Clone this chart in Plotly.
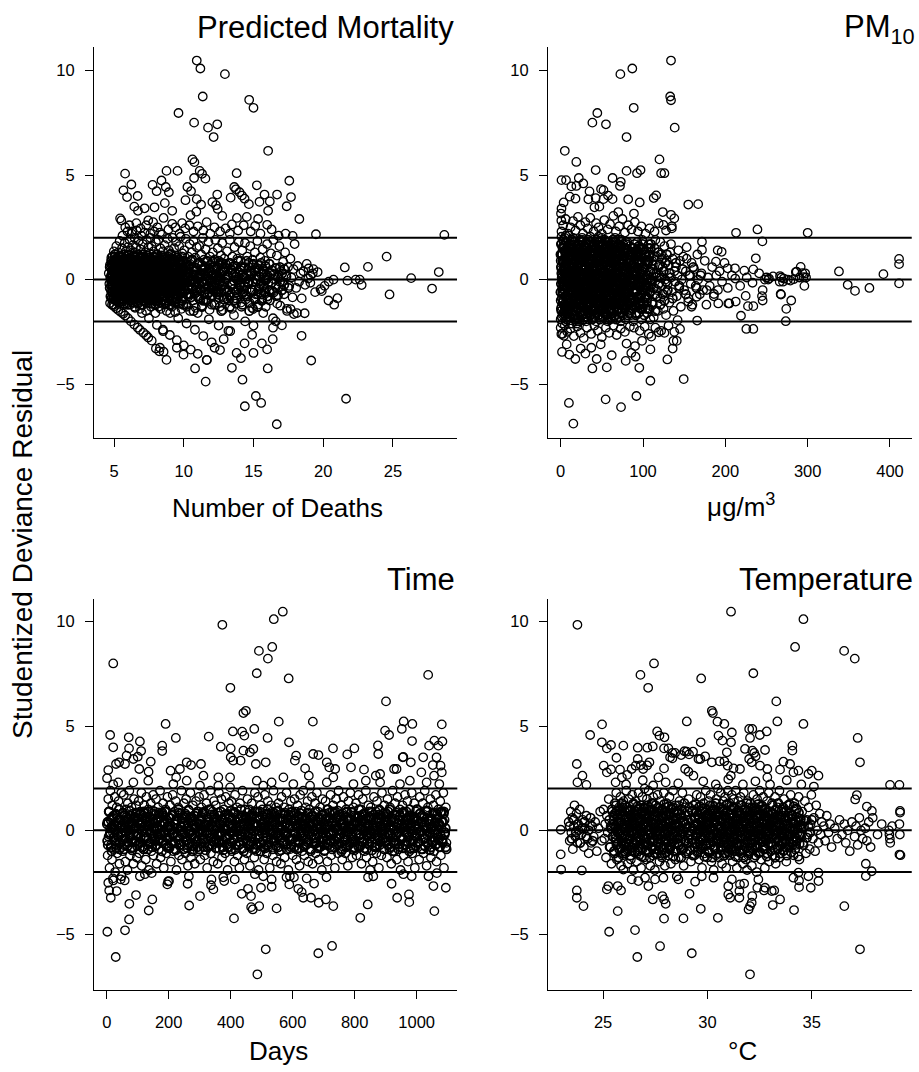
import plotly.graph_objects as go

# ---------------- Panel 1: Predicted Mortality (x = predicted deaths, y = studentized deviance residual)
mort_scatter = [
(10.93,10.48),(11.19,10.1),(12.95,9.83),(11.36,8.76),(14.69,8.6),(15.0,8.22),(9.62,7.97),(10.74,7.51),(12.4,7.43),(11.74,7.27),(12.14,6.82),(16.05,6.16),(10.62,5.75),(10.76,5.62),(5.79,5.07),(8.76,5.2),(9.55,5.2),(11.14,5.2),(11.31,5.06),(13.79,5.09),(11.55,4.83),(10.74,4.86),(17.57,4.73),(15.24,4.51),(6.24,4.55),(5.67,4.27),(7.76,4.53),(8.4,4.74),(8.71,4.43),(8.93,4.18),(10.26,4.43),(10.52,4.23),(5.93,3.95),(6.69,4.0),(8.05,4.23),(12.4,4.07),(13.62,4.43),(13.74,4.32),(14.0,4.18),(14.36,3.87),(14.17,4.02),(15.79,4.07),(16.69,4.07),(17.69,3.95),(13.36,3.92),(10.93,3.85),(10.12,3.8),(11.24,3.59),(8.64,3.66),(14.67,3.61),(15.43,3.72),(16.17,3.74),(17.38,3.51),(12.05,3.71),(12.31,3.56),(12.43,3.38),(6.45,3.49),(6.71,3.29),(7.19,3.41),(7.9,3.46),(9.17,3.29),(10.48,3.08),(10.9,3.25),(12.76,3.05),(13.81,2.95),(14.52,3.0),(15.33,2.9),(16.05,3.29),(18.29,2.9),(5.43,2.93),(5.52,2.83),(7.45,2.83),(8.55,2.95),(9.17,2.67),(9.88,2.7),(11.64,2.75),(13.45,2.64),(15.12,2.57),(15.98,2.62),(19.48,2.17),(28.69,2.14),(17.81,2.09),
(5.8,2.5),(6.1,2.6),(6.3,2.3),(6.6,2.7),(6.9,2.45),(7.3,2.6),(7.6,2.2),(7.8,2.75),(8.1,2.5),(8.3,2.25),(8.9,2.4),(9.4,2.5),(9.7,2.2),(10.1,2.45),(10.4,2.6),(10.7,2.3),(11.0,2.55),(11.4,2.35),(11.9,2.2),(12.2,2.5),(12.6,2.3),(13.0,2.45),(13.3,2.2),(13.9,2.35),(14.3,2.6),(14.8,2.3),(15.5,2.2),(16.3,2.4),(16.8,2.1),(17.3,2.2),
(24.55,1.1),(21.55,0.58),(23.21,0.61),(28.29,0.36),(26.31,0.07),(20.74,0.0),(21.74,-0.05),(22.33,0.0),(22.62,0.0),(22.76,-0.26),(27.81,-0.43),(24.76,-0.71),(19.81,-0.46),(20.38,-1.0),(21.02,-0.89),(20.79,-1.2),(19.6,0.36),(18.95,0.53),(19.3,0.5),(20.1,-0.3),(19.9,-0.55),(20.4,-0.1),(19.1,0.2),
(8.52,-2.47),(8.76,-3.84),(8.0,-3.3),(8.24,-3.43),(9.5,-3.26),(9.98,-3.59),(10.81,-4.25),(11.57,-4.88),(11.64,-3.84),(12.21,-3.26),(12.86,-2.85),(13.33,-2.47),(13.45,-4.22),(13.79,-3.51),(14.1,-3.76),(14.21,-4.79),(14.36,-3.05),(14.38,-6.06),(14.9,-2.64),(15.0,-3.51),(15.17,-5.57),(15.55,-5.9),(15.6,-3.05),(15.98,-3.34),(16.02,-4.25),(16.67,-6.92),(18.45,-2.69),(19.14,-3.87),(21.64,-5.7),(16.38,-2.85),(18.67,-1.61),(17.66,-1.41),(18.12,-1.6),(17.04,-2.19),(16.4,-2.3),(16.6,-2.0)
]
mort_bands = [
(4.71,-1.12),(4.85,-1.2),(5.0,-1.28),(5.15,-1.37),(5.3,-1.46),(5.48,-1.55),(5.65,-1.63),(5.79,-1.72),(6.0,-1.85),(6.21,-2.0),(6.45,-2.15),(6.7,-2.3),(6.86,-2.41),(7.1,-2.54),(7.3,-2.66),(7.45,-2.77),(7.7,-2.92),(8.29,-3.26),(8.55,-3.45),
(5.6,-0.9),(6.0,-1.1),(6.5,-1.35),(7.0,-1.6),(7.5,-1.85),(8.07,-2.17),(8.5,-2.4),(9.0,-2.65),(9.5,-2.9),(10.0,-3.15),(10.5,-3.35),(11.0,-3.55),(11.66,-3.85),
(7.0,-0.9),(7.6,-1.1),(8.2,-1.3),(9.02,-1.6),(9.6,-1.85),(10.2,-2.1),(10.8,-2.4),(11.4,-2.7),(12.0,-3.0),(12.6,-3.37),
(8.6,-0.8),(9.4,-1.05),(10.2,-1.3),(11.0,-1.6),(11.8,-1.9),(12.5,-2.2),(13.2,-2.45),
(10.4,-0.7),(11.2,-0.95),(12.0,-1.2),(12.8,-1.45),(13.6,-1.7),(14.4,-2.0),(15.0,-2.2),
(12.5,-0.6),(13.3,-0.85),(14.1,-1.1),(14.9,-1.35),(15.7,-1.6),(16.4,-1.85),
(14.5,-0.5),(15.3,-0.7),(16.0,-0.95),(16.7,-1.15),(17.4,-1.4),(17.9,-1.65)
]
mort_core = [
(4.62,0.3),(4.66,-0.2),(4.7,0.7),(4.74,0.05),(4.78,-0.55),(4.8,1.05),(4.84,0.45),(4.88,-0.35),(4.9,0.15),(4.94,-0.8),(4.96,0.85),(4.98,1.35),
(5.02,-0.6),(5.04,0.4),(5.06,1.1),(5.08,-0.1),(5.1,0.75),(5.12,-0.95),(5.14,0.2),(5.16,1.6),(5.18,-0.4),(5.2,0.55),(5.22,-0.15),(5.24,0.95),(5.26,-0.75),(5.28,0.3),(5.3,1.3),(5.32,-0.3),(5.34,0.65),(5.36,0.0),(5.38,-1.0),(5.4,1.85),(5.42,0.45),(5.44,-0.55),(5.46,0.15),(5.48,1.05),(5.5,-0.2),
(5.52,0.8),(5.54,-0.65),(5.55,0.35),(5.57,1.5),(5.59,-0.05),(5.6,2.1),(5.62,-1.05),(5.64,0.6),(5.66,0.1),(5.68,1.2),(5.7,-0.45),(5.72,0.9),(5.74,-0.2),(5.76,1.75),(5.78,0.4),(5.8,-0.8),(5.82,0.05),(5.84,1.35),(5.86,-0.35),(5.88,0.7),(5.9,-1.15),(5.92,0.25),(5.94,1.0),(5.95,-0.6),(5.96,2.3),(5.97,0.5),(5.98,-0.1),(5.99,1.55),
(6.02,-0.9),(6.04,0.3),(6.06,1.15),(6.08,-0.3),(6.1,0.75),(6.12,1.9),(6.14,-1.2),(6.16,0.0),(6.18,0.55),(6.2,1.4),(6.22,-0.55),(6.24,0.2),(6.26,2.2),(6.28,0.95),(6.3,-0.15),(6.32,-1.0),(6.34,0.6),(6.36,1.65),(6.38,-0.4),(6.4,0.35),(6.42,1.1),(6.44,-0.7),(6.45,0.05),(6.46,0.8),(6.47,2.0),(6.48,-1.3),(6.49,0.45),(6.5,1.3),
(6.52,-0.2),(6.54,0.65),(6.56,-0.85),(6.58,1.55),(6.6,0.1),(6.62,2.35),(6.64,-0.45),(6.66,0.9),(6.68,0.3),(6.7,-1.1),(6.72,1.2),(6.74,-0.05),(6.76,1.85),(6.78,0.5),(6.8,-0.65),(6.82,0.0),(6.84,1.0),(6.86,-1.4),(6.88,0.4),(6.9,1.45),(6.92,-0.3),(6.94,0.75),(6.95,2.1),(6.96,-0.9),(6.98,0.2),(7.0,1.1),
(7.02,-0.5),(7.04,0.55),(7.06,1.7),(7.08,-1.2),(7.1,0.15),(7.13,0.95),(7.16,-0.25),(7.18,2.25),(7.2,0.4),(7.22,-0.8),(7.25,1.3),(7.27,0.0),(7.3,-1.5),(7.32,0.7),(7.34,1.9),(7.36,-0.4),(7.38,0.25),(7.4,1.05),(7.42,-1.0),(7.44,0.5),(7.46,1.55),(7.47,-0.15),(7.48,0.85),(7.5,-0.7),
(7.52,0.3),(7.55,1.25),(7.57,-0.35),(7.6,2.0),(7.62,0.6),(7.65,-1.3),(7.67,0.05),(7.7,1.6),(7.72,-0.6),(7.75,0.9),(7.77,0.2),(7.8,-1.0),(7.82,1.35),(7.85,-0.1),(7.87,2.3),(7.9,0.45),(7.92,-0.8),(7.94,1.05),(7.96,-1.6),(7.97,0.7),(7.98,-0.3),(8.0,1.8),
(8.03,0.1),(8.06,-0.5),(8.09,1.2),(8.12,0.55),(8.15,-1.15),(8.18,1.9),(8.2,-0.2),(8.23,0.85),(8.26,-0.75),(8.29,0.3),(8.32,1.5),(8.34,-1.4),(8.36,0.0),(8.39,1.05),(8.41,-0.45),(8.43,2.15),(8.45,0.6),(8.47,-0.95),(8.49,0.25),(8.5,1.35),
(8.53,-0.3),(8.56,0.8),(8.59,-1.2),(8.62,1.65),(8.65,0.15),(8.68,-0.6),(8.71,1.1),(8.74,0.4),(8.77,-1.5),(8.8,0.0),(8.83,1.95),(8.86,-0.85),(8.88,0.65),(8.9,-0.15),(8.93,1.4),(8.95,-1.05),(8.97,0.3),(8.99,0.95),
(9.03,-0.45),(9.07,1.25),(9.1,0.2),(9.14,-1.3),(9.17,0.7),(9.2,2.0),(9.24,-0.7),(9.27,0.05),(9.3,1.5),(9.33,-0.2),(9.36,0.9),(9.39,-1.55),(9.42,0.45),(9.45,1.8),(9.47,-0.9),(9.49,0.25),
(9.52,1.05),(9.56,-0.35),(9.6,0.6),(9.63,-1.1),(9.67,1.6),(9.7,0.1),(9.73,-0.65),(9.77,2.05),(9.8,0.8),(9.83,-1.4),(9.87,0.3),(9.9,1.25),(9.93,-0.15),(9.96,-0.9),(9.99,0.55),
(10.03,1.4),(10.07,-0.5),(10.11,0.2),(10.15,1.95),(10.19,-1.2),(10.23,0.7),(10.27,-0.15),(10.31,1.1),(10.35,-0.8),(10.38,0.4),(10.42,1.7),(10.45,-1.5),(10.48,0.0),(10.5,0.9),
(10.54,-0.4),(10.58,1.3),(10.62,0.25),(10.66,-1.0),(10.7,1.85),(10.74,0.6),(10.78,-0.2),(10.82,1.05),(10.86,-1.35),(10.9,0.45),(10.93,1.55),(10.96,-0.6),(10.99,0.1),
(11.04,0.8),(11.08,-0.9),(11.12,1.6),(11.16,0.15),(11.21,-0.45),(11.25,1.2),(11.29,-1.25),(11.33,0.5),(11.37,2.0),(11.41,-0.1),(11.45,0.95),(11.49,-0.7),
(11.53,0.3),(11.57,1.45),(11.61,-1.0),(11.65,0.0),(11.69,0.85),(11.73,-0.4),(11.77,1.8),(11.81,0.55),(11.85,-1.45),(11.89,1.1),(11.93,-0.15),(11.97,0.4),
(12.04,-0.75),(12.08,1.3),(12.13,0.2),(12.17,-0.3),(12.22,0.95),(12.26,1.9),(12.31,-1.1),(12.35,0.5),(12.4,-0.05),(12.44,1.5),(12.48,-0.55),
(12.54,0.7),(12.58,-1.3),(12.63,0.15),(12.67,1.15),(12.72,-0.35),(12.76,1.75),(12.81,0.4),(12.85,-0.85),(12.9,1.0),(12.94,-0.1),(12.98,0.6),
(13.05,-0.6),(13.1,1.35),(13.15,0.1),(13.2,-1.0),(13.25,0.8),(13.3,1.9),(13.35,-0.25),(13.4,0.45),(13.45,-1.4),(13.49,1.1),
(13.54,0.2),(13.59,-0.45),(13.64,1.55),(13.69,0.65),(13.74,-1.15),(13.79,0.0),(13.84,1.0),(13.89,-0.7),(13.94,1.8),(13.98,0.35),
(14.04,-0.25),(14.09,0.9),(14.14,-1.3),(14.19,1.4),(14.24,0.1),(14.29,-0.6),(14.34,0.55),(14.39,1.75),(14.44,-0.95),(14.48,0.3),
(14.55,1.1),(14.6,-0.15),(14.66,0.6),(14.71,-1.1),(14.77,1.6),(14.82,0.2),(14.88,-0.5),(14.93,0.95),(14.98,-1.4),
(15.05,0.4),(15.1,1.3),(15.16,-0.7),(15.22,0.0),(15.28,1.85),(15.33,-1.2),(15.39,0.7),(15.44,-0.3),(15.49,1.05),
(15.55,0.25),(15.6,-0.9),(15.66,1.45),(15.71,0.5),(15.77,-0.4),(15.83,0.9),(15.88,-1.3),(15.93,0.1),(15.98,1.7),
(16.06,-0.15),(16.12,0.75),(16.18,-1.0),(16.25,1.25),(16.31,0.3),(16.37,-0.55),(16.43,1.9),(16.49,0.0),
(16.56,0.55),(16.62,-0.8),(16.68,1.15),(16.74,0.15),(16.8,-0.35),(16.86,1.6),(16.92,-1.25),(16.98,0.4),
(17.06,-0.1),(17.13,0.85),(17.2,-0.7),(17.27,1.3),(17.34,0.25),(17.41,-1.5),(17.48,0.6),
(17.57,-0.3),(17.65,1.0),(17.72,0.1),(17.8,-0.85),(17.87,0.5),(17.95,1.7),
(18.06,-0.4),(18.17,0.65),(18.27,-0.1),(18.38,0.3),(18.46,-0.9),
(18.58,0.4),(18.7,-0.25),(18.82,0.75),(18.93,0.05),
(19.08,-0.15),(19.25,0.3),(19.42,-0.6)
]
mort_dense = [
(4.70,0.6),(4.70,-0.4),(4.75,0.1),(4.75,-0.8),(4.80,0.9),(4.80,-0.1),(4.85,0.3),(4.85,-0.6),(4.90,0.75),(4.90,-0.25),(4.95,0.45),(4.95,-0.9),(5.00,0.0),(5.00,0.5),(5.05,-0.5),(5.05,0.2),(5.10,-0.7),(5.10,0.85),(5.15,-0.3),(5.15,0.35),(5.20,-0.05),(5.20,0.65),(5.25,-0.85),(5.25,0.15),(5.30,-0.45),(5.30,0.95),(5.35,-0.15),(5.35,0.4),(5.40,-0.65),(5.40,0.25),
(5.45,0.55),(5.45,-0.35),(5.50,0.05),(5.50,-0.75),(5.55,0.8),(5.55,-0.2),(5.60,0.3),(5.60,-0.55),(5.65,0.7),(5.65,-0.1),(5.70,0.45),(5.70,-0.95),(5.75,0.0),(5.75,0.6),(5.80,-0.45),(5.80,0.15),(5.85,-0.7),(5.85,0.9),(5.90,-0.3),(5.90,0.4),(5.95,-0.05),(5.95,0.7),(6.00,-0.8),(6.00,0.2),(6.05,-0.5),(6.05,1.0),(6.10,-0.15),(6.10,0.5),(6.15,-0.6),(6.15,0.25),
(6.20,0.6),(6.20,-0.4),(6.25,0.1),(6.25,-0.85),(6.30,0.85),(6.30,-0.1),(6.35,0.35),(6.35,-0.6),(6.40,0.75),(6.40,-0.3),(6.45,0.5),(6.45,-0.95),(6.50,0.0),(6.50,0.55),(6.55,-0.5),(6.55,0.2),(6.60,-0.75),(6.60,0.9),(6.65,-0.25),(6.65,0.35),(6.70,-0.05),(6.70,0.65),(6.75,-0.9),(6.75,0.15),(6.80,-0.45),(6.80,1.0),(6.85,-0.15),(6.85,0.45),(6.90,-0.65),(6.90,0.25),
(6.95,0.6),(6.95,-0.35),(7.00,0.05),(7.00,-0.8),(7.05,0.85),(7.05,-0.2),(7.10,0.3),(7.10,-0.6),(7.15,0.7),(7.15,-0.1),(7.20,0.45),(7.20,-1.0),(7.25,0.0),(7.25,0.55),(7.30,-0.45),(7.30,0.15),(7.35,-0.75),(7.35,0.9),(7.40,-0.3),(7.40,0.4),(7.45,-0.05),(7.45,0.7),(7.50,-0.85),(7.50,0.2),(7.55,-0.5),(7.55,0.95),(7.60,-0.15),(7.60,0.5),(7.65,-0.65),(7.65,0.25),
(7.70,0.6),(7.70,-0.4),(7.75,0.1),(7.75,-0.9),(7.80,0.85),(7.80,-0.1),(7.85,0.3),(7.85,-0.6),(7.90,0.75),(7.90,-0.25),(7.95,0.45),(7.95,-1.0),(8.00,0.0),(8.00,0.5),(8.05,-0.5),(8.05,0.2),(8.10,-0.7),(8.10,0.85),(8.15,-0.3),(8.15,0.35),(8.20,-0.05),(8.20,0.65),(8.25,-0.85),(8.25,0.15),(8.30,-0.45),(8.30,0.95),(8.35,-0.15),(8.35,0.4),(8.40,-0.65),(8.40,0.25),
(8.45,0.55),(8.45,-0.35),(8.50,0.05),(8.50,-0.8),(8.55,0.8),(8.55,-0.2),(8.60,0.3),(8.60,-0.55),(8.65,0.7),(8.65,-0.1),(8.70,0.45),(8.70,-1.0),(8.75,0.0),(8.75,0.6),(8.80,-0.45),(8.80,0.15),(8.85,-0.7),(8.85,0.9),(8.90,-0.3),(8.90,0.4),(8.95,-0.05),(8.95,0.7),
(9.0,-0.8),(9.0,0.2),(9.1,-0.5),(9.1,0.9),(9.2,-0.15),(9.2,0.5),(9.3,-0.65),(9.3,0.25),(9.4,0.6),(9.4,-0.4),(9.5,0.1),(9.5,-0.9),(9.6,0.85),(9.6,-0.1),(9.7,0.3),(9.7,-0.6),(9.8,0.75),(9.8,-0.25),(9.9,0.45),(9.9,-1.0),(10.0,0.0),(10.0,0.5),(10.1,-0.5),(10.1,0.2),(10.2,-0.7),(10.2,0.85),(10.3,-0.3),(10.3,0.35),(10.4,-0.05),(10.4,0.65),
(10.5,-0.85),(10.5,0.15),(10.6,-0.45),(10.6,0.95),(10.7,-0.15),(10.7,0.4),(10.8,-0.65),(10.8,0.25),(10.9,0.55),(10.9,-0.35),(11.0,0.05),(11.0,-0.8),(11.1,0.8),(11.1,-0.2),(11.2,0.3),(11.2,-0.55),(11.3,0.7),(11.3,-0.1),(11.4,0.45),(11.4,-1.0),(11.5,0.0),(11.5,0.6),(11.6,-0.45),(11.6,0.15),(11.7,-0.7),(11.7,0.9),(11.8,-0.3),(11.8,0.4),(11.9,-0.05),(11.9,0.7),
(12.0,-0.8),(12.0,0.2),(12.1,-0.5),(12.1,0.85),(12.2,-0.15),(12.2,0.5),(12.3,-0.6),(12.3,0.25),(12.4,0.6),(12.4,-0.4),(12.5,0.1),(12.5,-0.85),(12.6,0.8),(12.6,-0.1),(12.7,0.35),(12.7,-0.6),(12.8,0.75),(12.8,-0.3),(12.9,0.45),(12.9,-0.95),
(13.0,0.0),(13.0,0.55),(13.15,-0.5),(13.15,0.2),(13.3,-0.75),(13.3,0.8),(13.45,-0.25),(13.45,0.35),(13.6,-0.05),(13.6,0.65),(13.75,-0.9),(13.75,0.15),(13.9,-0.45),(13.9,0.9),(14.05,-0.15),(14.05,0.45),(14.2,-0.65),(14.2,0.25),(14.35,0.6),(14.35,-0.35),(14.5,0.05),(14.5,-0.8),(14.65,0.8),(14.65,-0.2),(14.8,0.3),(14.8,-0.6),(14.95,0.7),(14.95,-0.1),(15.1,0.45),(15.1,-0.95),
(15.25,0.0),(15.25,0.55),(15.4,-0.45),(15.4,0.15),(15.55,-0.7),(15.55,0.8),(15.7,-0.3),(15.7,0.4),(15.85,-0.05),(15.85,0.65),(16.0,-0.8),(16.0,0.2),(16.15,-0.5),(16.15,0.75),(16.3,-0.15),(16.3,0.45),(16.45,-0.6),(16.45,0.25),(16.6,0.55),(16.6,-0.35),(16.75,0.1),(16.75,-0.75),(16.9,0.6),(16.9,-0.1),(17.05,0.3),(17.05,-0.5),(17.2,0.5),(17.2,-0.25),(17.35,0.15),(17.5,-0.4)
]
mort_dense2 = [
(4.80,0.2),(4.82,-0.9),(4.84,0.7),(4.86,-0.3),(4.88,1.1),(4.90,-0.6),(4.92,0.0),(4.94,0.5),(4.96,-1.2),(4.98,0.9),(5.00,-0.1),(5.02,0.35),(5.04,-0.75),(5.06,1.2),(5.08,-0.45),(5.10,0.6),(5.12,-1.0),(5.14,0.1),(5.16,0.8),(5.18,-0.2),(5.20,-0.55),(5.22,1.0),(5.24,-0.85),(5.26,0.45),(5.28,-0.05),
(5.30,-0.4),(5.32,0.85),(5.34,-1.1),(5.36,0.15),(5.38,0.55),(5.40,-0.7),(5.42,1.15),(5.44,-0.15),(5.46,0.3),(5.48,-0.95),(5.50,0.65),(5.52,0.05),(5.54,-0.5),(5.56,1.05),(5.58,-0.25),(5.60,-0.8),(5.62,0.4),(5.64,0.95),(5.66,-0.35),(5.68,0.0),(5.70,-1.15),(5.72,0.75),(5.74,-0.6),(5.76,0.25),(5.78,0.5),
(5.80,0.2),(5.82,-0.9),(5.84,0.7),(5.86,-0.3),(5.88,1.1),(5.90,-0.6),(5.92,0.0),(5.94,0.5),(5.96,-1.2),(5.98,0.9),(6.00,-0.1),(6.02,0.35),(6.04,-0.75),(6.06,1.2),(6.08,-0.45),(6.10,0.6),(6.12,-1.0),(6.14,0.1),(6.16,0.8),(6.18,-0.2),(6.20,-0.55),(6.22,1.0),(6.24,-0.85),(6.26,0.45),(6.28,-0.05),
(6.30,-0.4),(6.32,0.85),(6.34,-1.1),(6.36,0.15),(6.38,0.55),(6.40,-0.7),(6.42,1.15),(6.44,-0.15),(6.46,0.3),(6.48,-0.95),(6.50,0.65),(6.52,0.05),(6.54,-0.5),(6.56,1.05),(6.58,-0.25),(6.60,-0.8),(6.62,0.4),(6.64,0.95),(6.66,-0.35),(6.68,0.0),(6.70,-1.15),(6.72,0.75),(6.74,-0.6),(6.76,0.25),(6.78,0.5),
(6.80,0.2),(6.82,-0.9),(6.84,0.7),(6.86,-0.3),(6.88,1.1),(6.90,-0.6),(6.92,0.0),(6.94,0.5),(6.96,-1.2),(6.98,0.9),(7.00,-0.1),(7.02,0.35),(7.04,-0.75),(7.06,1.2),(7.08,-0.45),(7.10,0.6),(7.12,-1.0),(7.14,0.1),(7.16,0.8),(7.18,-0.2),(7.20,-0.55),(7.22,1.0),(7.24,-0.85),(7.26,0.45),(7.28,-0.05),
(7.30,-0.4),(7.32,0.85),(7.34,-1.1),(7.36,0.15),(7.38,0.55),(7.40,-0.7),(7.42,1.15),(7.44,-0.15),(7.46,0.3),(7.48,-0.95),(7.50,0.65),(7.52,0.05),(7.54,-0.5),(7.56,1.05),(7.58,-0.25),(7.60,-0.8),(7.62,0.4),(7.64,0.95),(7.66,-0.35),(7.68,0.0),(7.70,-1.15),(7.72,0.75),(7.74,-0.6),(7.76,0.25),(7.78,0.5),
(7.80,0.2),(7.82,-0.9),(7.84,0.7),(7.86,-0.3),(7.88,1.1),(7.90,-0.6),(7.92,0.0),(7.94,0.5),(7.96,-1.2),(7.98,0.9),(8.00,-0.1),(8.02,0.35),(8.04,-0.75),(8.06,1.2),(8.08,-0.45),(8.10,0.6),(8.12,-1.0),(8.14,0.1),(8.16,0.8),(8.18,-0.2),(8.20,-0.55),(8.22,1.0),(8.24,-0.85),(8.26,0.45),(8.28,-0.05),
(8.30,-0.4),(8.32,0.85),(8.34,-1.1),(8.36,0.15),(8.38,0.55),(8.40,-0.7),(8.42,1.15),(8.44,-0.15),(8.46,0.3),(8.48,-0.95),(8.50,0.65),(8.52,0.05),(8.54,-0.5),(8.56,1.05),(8.58,-0.25),(8.60,-0.8),(8.62,0.4),(8.64,0.95),(8.66,-0.35),(8.68,0.0),(8.70,-1.15),(8.72,0.75),(8.74,-0.6),(8.76,0.25),(8.78,0.5),
(8.80,0.2),(8.82,-0.9),(8.84,0.7),(8.86,-0.3),(8.88,1.1),(8.90,-0.6),(8.92,0.0),(8.94,0.5),(8.96,-1.2),(8.98,0.9),(9.00,-0.1),(9.02,0.35),(9.04,-0.75),(9.06,1.2),(9.08,-0.45),(9.10,0.6),(9.12,-1.0),(9.14,0.1),(9.16,0.8),(9.18,-0.2),(9.20,-0.55),(9.22,1.0),(9.24,-0.85),(9.26,0.45),(9.28,-0.05),
(9.30,-0.4),(9.32,0.85),(9.34,-1.1),(9.36,0.15),(9.38,0.55),(9.40,-0.7),(9.42,1.15),(9.44,-0.15),(9.46,0.3),(9.48,-0.95),(9.50,0.65),(9.52,0.05),(9.54,-0.5),(9.56,1.05),(9.58,-0.25),(9.60,-0.8),(9.62,0.4),(9.64,0.95),(9.66,-0.35),(9.68,0.0),(9.70,-1.15),(9.72,0.75),(9.74,-0.6),(9.76,0.25),(9.78,0.5),
(9.80,0.2),(9.82,-0.9),(9.84,0.7),(9.86,-0.3),(9.88,1.1),(9.90,-0.6),(9.92,0.0),(9.94,0.5),(9.96,-1.2),(9.98,0.9),
(10.0,-0.3),(10.1,0.6),(10.2,-1.2),(10.3,0.1),(10.4,-0.7),(10.5,0.9),(10.6,-0.1),(10.7,-1.5),(10.8,0.4),(10.9,-0.5),(11.0,0.75),(11.1,-0.9),(11.2,0.2),(11.3,-1.3),(11.4,0.5),(11.5,-0.2),(11.6,-1.0),(11.7,0.3),(11.8,-0.6),(11.9,0.0),
(12.0,-0.3),(12.1,0.6),(12.2,-1.2),(12.3,0.1),(12.4,-0.7),(12.5,0.9),(12.6,-0.1),(12.7,-1.5),(12.8,0.4),(12.9,-0.5),(13.0,0.75),(13.1,-0.9),(13.2,0.2),(13.3,-1.3),(13.4,0.5),(13.5,-0.2),(13.6,-1.0),(13.7,0.3),(13.8,-0.6),(13.9,0.0),
(14.0,-0.3),(14.1,0.6),(14.2,-1.2),(14.3,0.1),(14.4,-0.7),(14.5,0.9),(14.6,-0.1),(14.7,-1.5),(14.8,0.4),(14.9,-0.5),(15.0,0.75),(15.1,-0.9),(15.2,0.2),(15.3,-1.3),(15.4,0.5),(15.5,-0.2),(15.6,-1.0),(15.7,0.3),(15.8,-0.6),(15.9,0.0)
]

# ---------------- Panel 2: PM10 (x = ug/m3)
pm_scatter = [
(134,10.48),(87,10.1),(72.5,9.83),(133,8.76),(134,8.58),(88.7,8.22),(44.5,7.97),(38.5,7.51),(55,7.43),(138.5,7.27),(80,6.82),(5,6.16),(120,5.75),(19,5.63),(42.5,5.24),(80,5.2),(97,5.24),(92.7,5.09),(122,5.09),(126,5.09),(1,4.76),(6.5,4.76),(22,4.86),(63,4.86),(73,4.68),(72,4.48),(13,4.46),(19,4.48),(27.5,4.6),(35,4.22),(49,4.33),(52,4.28),(11,3.97),(18,3.87),(33.6,3.84),(42.5,3.9),(52,3.85),(57.5,4.02),(63,3.85),(82,3.84),(113,3.9),(116,4.03),(155,3.59),(167,3.61),(3.6,3.69),(96,3.69),(41,3.46),(47,3.49),(124,3.23),(134,3.1),(138,2.93),(70,3.23),(89,3.16),(1,3.4),(0.4,3.16),(0.8,2.83),(124.7,2.62),(135,2.45),(213,2.24),(239,2.4),(300,2.24),(245,1.83),(237,1.02),(190.7,1.4),(195.5,1.33),
(338,0.39),(392,0.26),(411,0.99),(411,0.74),(411,-0.18),(348.6,-0.25),(357.5,-0.54),(375,-0.4),(291.5,0.61),(293.6,0.31),(295,0.12),(296,-0.3),(285.6,0.36),(280,-1.0),(274,-1.4),(273.4,-1.99),(267.6,-0.72),(227.5,-1.27),(225.5,-2.36),(234,-2.36),(234,-1.27),(219,-1.73),(245.3,-1.0),(244.5,-0.79),(212.6,-1.05),(203.6,-1.14),(165.8,-1.96),
(171.6,1.81),(171.6,1.42),(153,1.55),(188.6,0.86),(202.8,0.54),(211.7,0.54),(223,0.43),(234,0.49),(266.4,0.17),(286.6,0.38),(177.3,-0.5),(186.2,-0.69),(191.4,-1.14),(204.8,-1.14),(224.7,-0.78),(245.3,-0.5),(267.2,-0.69),(155,-1.06),(165.2,-0.82),(159,-1.3),
(250,0.1),(253,0.05),(268,0.1),(270,-0.1),(276,0.0),(283,0.02),(297,0.3),(298,0.1),
(1.6,-3.46),(0.8,-2.6),(4,-2.69),(7.3,-3.1),(10.5,-3.59),(17.8,-3.8),(24.3,-3.3),(30,-3.54),(37.2,-3.26),(38.5,-4.25),(43.7,-3.8),(56,-4.2),(62,-3.62),(48.6,-3.1),(79,-3.89),(80,-3.06),(85.8,-3.51),(91,-3.69),(90.3,-3.18),(95.5,-4.22),(98.8,-2.93),(109,-3.34),(109,-4.84),(110,-2.73),(119,-2.52),(126,-2.55),(129.6,-3.82),(136,-3.3),(137,-2.93),(141,-2.93),(145,-2.36),(149.4,-4.76),(142,-1.94),(10,-5.9),(15.4,-6.89),(54.6,-5.73),(73.3,-6.1),(92,-5.57)
]
pm_edge = [
(1,2.3),(3,2.6),(6,2.9),(9,2.2),(12,2.5),(15,2.8),(18,2.35),(21,3.0),(24,2.6),(27,2.2),(30,2.75),(33,2.45),(36,2.95),(40,2.3),(43,2.7),(46,2.5),(50,2.2),(53,2.85),(57,2.4),(60,2.65),(64,3.05),(67,2.3),(71,2.55),(75,2.9),(78,2.25),(82,2.6),(86,2.4),(90,2.75),(94,2.3),(98,2.55),(103,2.2),(108,2.45),(114,2.3),(119,2.7),(128,2.35),(135,2.55),
(0,-2.3),(2,-2.6),(5,-2.2),(8,-2.5),(12,-2.35),(16,-2.7),(20,-2.25),(24,-2.55),(28,-2.8),(32,-2.3),(37,-2.6),(41,-2.2),(45,-2.45),(50,-2.75),(55,-2.3),(59,-2.55),(64,-2.2),(68,-2.65),(73,-2.35),(78,-2.5),(84,-2.25),(89,-2.3),(96,-2.45),(102,-2.25),(107,-2.6),(115,-2.3),(122,-2.45),(131,-2.2),(138,-2.5)
]
pm_core = [
(0,-1.9),(1,1.7),(2,-0.4),(3,0.9),(4,-1.2),(5,2.0),(6,0.1),(7,-0.8),(8,1.3),(9,-1.6),(1,0.5),(2,-2.1),(3,1.9),(4,-0.1),(5,-1.5),(6,1.0),(7,0.3),(8,-1.1),(9,1.6),(0,-0.6),
(2,1.2),(3,-1.7),(4,0.6),(5,-0.3),(6,2.1),(7,-1.4),(8,0.2),(9,-0.9),(1,-1.3),(0,0.9),(3,-0.7),(4,1.5),(5,0.4),(6,-2.0),(7,1.8),(8,-0.2),(9,0.7),(2,0.0),(1,2.05),(0,-1.0),
(10,1.1),(11,-1.8),(12,0.3),(13,-0.5),(14,1.9),(15,-1.2),(16,0.7),(17,-0.1),(18,1.4),(19,-2.0),(10,-0.7),(11,0.9),(12,-1.5),(13,1.6),(14,0.0),(15,2.0),(16,-0.9),(17,1.2),(18,-1.7),(19,0.5),
(11,-0.3),(12,1.8),(13,-2.1),(14,-1.0),(15,0.6),(16,1.5),(17,-1.3),(18,0.2),(19,-0.6),(10,2.1),(12,-0.9),(14,0.8),(16,-1.9),(18,1.0),(13,0.25),(15,-0.4),(17,0.45),(19,1.3),
(20,-1.1),(21,0.4),(22,1.7),(23,-0.2),(24,-1.6),(25,0.9),(26,2.0),(27,-0.8),(28,0.1),(29,1.3),(20,0.7),(21,-1.9),(22,-0.5),(23,1.1),(24,0.3),(25,-1.3),(26,-0.1),(27,1.9),(28,-1.5),(29,0.6),
(21,1.5),(22,-1.2),(23,-2.0),(24,1.0),(25,0.0),(26,-0.7),(27,0.5),(28,1.6),(29,-1.0),(20,-2.1),(22,0.2),(24,-0.4),(26,1.2),(28,-0.3),(23,0.8),(27,-1.7),
(30,1.4),(31,-0.6),(32,0.2),(33,-1.8),(34,1.0),(35,-0.2),(36,2.05),(37,-1.0),(38,0.6),(39,-1.4),(30,-0.9),(31,1.8),(32,-1.5),(33,0.4),(34,-0.5),(35,1.3),(36,-1.1),(37,0.0),(38,1.7),(39,0.3),
(31,-2.0),(32,1.1),(33,-0.1),(34,-1.3),(35,0.8),(36,0.1),(37,1.5),(38,-0.7),(39,-1.9),(30,0.5),(33,1.9),(35,-1.6),(37,-0.4),(39,0.9),
(40,-0.3),(41,1.2),(42,-1.7),(43,0.5),(44,1.9),(45,-0.9),(46,0.0),(47,1.4),(48,-1.2),(49,0.7),(40,1.6),(41,-0.5),(42,0.3),(43,-2.0),(44,-0.2),(45,1.0),(46,-1.5),(47,0.2),(48,1.8),(49,-0.7),
(41,0.6),(42,1.5),(43,-1.1),(44,0.9),(45,-0.4),(46,2.05),(47,-1.8),(48,0.1),(49,1.2),(40,-1.4),(44,-1.0),(48,-0.4),
(50,0.8),(51,-1.3),(52,1.7),(53,-0.2),(54,0.4),(55,-1.9),(56,1.1),(57,-0.6),(58,0.0),(59,1.5),(50,-0.5),(51,1.9),(52,-1.0),(53,0.7),(54,-1.6),(55,0.2),(56,-0.3),(57,1.3),(58,-1.2),(59,-0.1),
(51,0.3),(53,-1.4),(55,1.0),(57,-2.0),(59,0.6),(50,2.0),(52,0.1),(54,1.2),(56,-0.9),(58,1.8),
(60,-0.8),(61,1.0),(62,-1.5),(63,0.3),(64,1.8),(65,-0.4),(66,0.7),(67,-1.1),(68,1.4),(69,-0.1),(60,0.5),(61,-1.9),(62,1.2),(63,-0.6),(64,0.0),(65,1.6),(66,-1.3),(67,0.4),(68,-0.3),(69,1.0),
(61,0.1),(63,1.9),(65,-1.8),(67,1.2),(69,-0.9),(62,-0.2),(64,-1.0),(66,2.0),
(70,0.2),(71,-1.2),(72,1.5),(73,-0.4),(74,0.8),(75,-1.7),(76,0.0),(77,1.1),(78,-0.8),(79,1.8),(70,-1.0),(71,0.6),(72,-0.1),(73,1.3),(74,-1.4),(75,0.4),(76,1.7),(77,-0.6),(78,0.3),(79,-1.9),
(71,1.9),(73,-2.0),(75,1.0),(77,-0.2),(79,0.5),(74,-0.5),
(80,1.0),(81,-0.5),(82,0.3),(83,-1.5),(84,1.6),(85,-0.1),(86,0.7),(87,-1.1),(88,1.3),(89,0.0),(80,-1.3),(81,1.8),(82,-0.8),(83,0.5),(84,-0.3),(85,1.2),(86,-1.7),(87,0.2),(88,-0.6),(89,1.5),
(82,1.0),(84,-1.0),(86,0.1),(88,-2.0),
(90,0.4),(91,-1.0),(92,1.4),(93,-0.3),(94,0.8),(95,-1.6),(96,0.1),(97,1.1),(98,-0.7),(99,1.9),(90,-0.5),(91,1.2),(92,-1.3),(93,0.6),(94,-0.1),(95,1.6),(96,-0.9),(97,0.3),(98,-1.9),(99,-0.2),
(93,1.8),(97,-1.2),
(100,0.5),(101,-1.1),(102,1.3),(103,-0.2),(104,0.9),(105,-1.6),(106,0.0),(107,1.7),(108,-0.6),(109,0.4),(101,1.0),(103,-1.4),(105,0.7),(107,-0.4),(109,-1.9),(100,1.8),(104,-0.8),(108,1.2),
(110,-0.3),(111,0.9),(112,-1.2),(113,0.3),(114,1.5),(115,-0.7),(116,0.1),(117,1.1),(118,-1.5),(119,0.6),(111,-0.1),(113,-1.8),(115,1.9),(117,-0.5),(119,1.3),(112,0.7),
(120,0.2),(121,-0.9),(122,1.2),(123,-0.3),(124,0.6),(125,-1.4),(126,1.6),(127,0.0),(128,-0.6),(129,0.9),(121,1.8),(125,0.4),(128,-1.7),
(130,-0.2),(131,0.7),(132,-1.1),(133,1.3),(134,0.1),(135,-0.6),(136,1.0),(137,-1.5),(138,0.4),(139,-0.1),(134,1.7),
(140,0.6),(141,-0.8),(142,0.2),(143,1.4),(144,-0.4),(145,0.9),(146,-1.3),(147,0.0),(149,1.1),
(150,-0.5),(152,0.4),(153,1.0),(155,-0.9),(156,0.2),(158,-0.2),(159,0.8),
(160,-1.2),(162,0.5),(164,-0.3),(166,1.2),(167,0.0),(169,-0.7),
(171,0.3),(173,-0.5),(175,0.9),(177,-1.2),(179,0.1),
(181,-0.3),(184,0.6),(186,-0.8),(189,0.2),
(191,-0.5),(193,0.4),(196,-0.1),(199,0.8),
(203,-0.4),(208,0.2),(212,0.05),(218,-0.3),(226,0.1),(233,-0.15),(241,0.3),(248,0.0),
(252,0.0),(258,0.15),(266,-0.1),(271,0.05),(279,-0.05),(290,0.1)
]
pm_dense = [
(0,1.2),(0,-0.6),(1,0.3),(1,-1.5),(2,0.9),(2,-0.1),(3,1.6),(3,-1.0),(4,0.5),(4,-0.3),(5,1.4),(5,-1.3),(6,0.1),(6,-0.8),(7,0.7),(7,-1.6),(8,1.0),(8,-0.4),(9,0.2),(9,-1.1),
(10,1.5),(10,-0.7),(11,0.4),(11,-1.4),(12,1.1),(12,0.0),(13,-0.5),(13,1.7),(14,0.6),(14,-1.2),(15,-0.2),(15,1.3),(16,0.8),(16,-0.9),(17,-1.7),(17,0.35),(18,1.25),(18,-0.45),(19,0.05),(19,-1.35),
(20,1.45),(20,-0.65),(21,0.55),(21,-1.05),(22,0.15),(22,1.65),(23,-0.25),(23,-1.55),(24,0.95),(24,-0.75),(25,1.35),(25,-0.15),(26,0.45),(26,-1.25),(27,1.05),(27,-0.55),(28,0.25),(28,-1.65),(29,1.55),(29,-0.35),
(30,0.65),(30,-0.95),(31,1.15),(31,-0.05),(32,-1.45),(32,0.85),(33,0.35),(33,-0.85),(34,1.7),(34,-0.25),(35,0.75),(35,-1.15),(36,0.0),(36,1.3),(37,-0.6),(37,-1.5),(38,1.0),(38,0.2),(39,-0.95),(39,1.6),
(40,0.4),(40,-0.4),(41,1.2),(41,-1.3),(42,-0.1),(42,0.8),(43,1.5),(43,-0.7),(44,0.55),(44,-1.6),(45,-0.3),(45,1.1),(46,0.9),(46,-1.0),(47,1.65),(47,-0.2),(48,0.15),(48,-1.25),(49,1.35),(49,-0.6),
(50,0.7),(50,-1.45),(51,-0.05),(51,1.25),(52,0.3),(52,-0.9),(53,1.45),(53,-0.35),(54,0.85),(54,-1.2),(55,-0.5),(55,1.6),(56,0.2),(56,-1.65),(57,1.05),(57,-0.15),(58,0.6),(58,-0.75),(59,1.5),(59,-1.1),
(60,-0.25),(60,0.45),(61,1.2),(61,-1.5),(62,0.05),(62,0.95),(63,-0.65),(63,1.4),(64,0.75),(64,-1.0),(65,-0.4),(65,1.7),(66,0.35),(66,-1.3),(67,1.1),(67,-0.1),(68,-0.85),(68,0.6),(69,1.55),(69,-1.4),
(70,0.25),(70,-0.55),(71,0.9),(71,-1.2),(72,-0.15),(72,1.35),(73,1.6),(73,-0.8),(74,0.5),(74,-1.55),(75,-0.35),(75,1.0),(76,0.1),(76,-1.05),(77,1.25),(77,-0.45),(78,0.65),(78,-1.35),(79,-0.7),(79,1.5),
(80,0.3),(80,-0.2),(81,1.4),(81,-1.1),(82,0.8),(82,-0.65),(83,-1.6),(83,0.15),(84,1.15),(84,-0.3),(85,0.45),(85,-1.45),(86,-0.9),(86,1.3),(87,0.6),(87,0.0),(88,1.5),(88,-0.95),(89,-0.5),(89,0.75),
(90,1.0),(90,-1.3),(91,0.2),(91,-0.6),(92,1.35),(92,-1.6),(93,-0.2),(93,0.55),(94,0.95),(94,-0.85),(95,-1.2),(95,1.6),(96,0.4),(96,-0.35),(97,1.2),(97,-1.15),(98,-0.75),(98,0.85),(99,0.1),(99,-1.4),(100,1.45),(100,-0.5),
(101,0.6),(102,-0.9),(103,1.2),(104,-0.3),(105,0.2),(106,-1.4),(107,0.9),(108,-0.6),(109,1.5),(110,0.0),(111,-1.1),(112,0.5),(113,-0.4),(114,1.1),(115,-1.5),(116,0.3),(117,-0.8),(118,1.3),(119,-0.2),(120,0.7),
(121,-1.2),(122,0.1),(123,1.0),(124,-0.7),(125,0.4),(126,-1.0),(127,0.8),(128,-0.1),(129,1.2),(130,-0.5),
(132,0.3),(136,-0.9),(140,0.8),(144,-0.3),(148,0.5),(152,-0.7),(157,0.2),(161,0.6),(165,-0.4),(170,0.2)
]
pm_dense2 = [
(0.5,1.7),(0.5,-0.2),(0.5,0.6),(0.5,-1.4),(1.5,-0.9),(1.5,1.2),(1.5,0.1),(1.5,-1.8),(2.5,0.4),(2.5,-0.6),(2.5,1.5),(2.5,-1.1),(3.5,-1.6),(3.5,0.8),(3.5,-0.3),(3.5,1.9),(4.5,0.0),(4.5,-1.2),(4.5,1.0),(4.5,-0.5),
(5.5,1.3),(5.5,-1.7),(5.5,0.3),(5.5,-0.8),(6.5,-0.1),(6.5,1.8),(6.5,-1.3),(6.5,0.7),(7.5,0.9),(7.5,-1.9),(7.5,0.2),(7.5,-0.4),(8.5,-1.0),(8.5,1.4),(8.5,-0.7),(8.5,0.5),(9.5,1.6),(9.5,-1.5),(9.5,-0.05),(9.5,1.1),
(10.5,1.7),(10.5,-0.2),(10.5,0.6),(10.5,-1.4),(11.5,-0.9),(11.5,1.2),(11.5,0.1),(11.5,-1.8),(12.5,0.4),(12.5,-0.6),(12.5,1.5),(12.5,-1.1),(13.5,-1.6),(13.5,0.8),(13.5,-0.3),(13.5,1.9),(14.5,0.0),(14.5,-1.2),(14.5,1.0),(14.5,-0.5),
(15.5,1.3),(15.5,-1.7),(15.5,0.3),(15.5,-0.8),(16.5,-0.1),(16.5,1.8),(16.5,-1.3),(16.5,0.7),(17.5,0.9),(17.5,-1.9),(17.5,0.2),(17.5,-0.4),(18.5,-1.0),(18.5,1.4),(18.5,-0.7),(18.5,0.5),(19.5,1.6),(19.5,-1.5),(19.5,-0.05),(19.5,1.1),
(20.5,1.7),(20.5,-0.2),(20.5,0.6),(20.5,-1.4),(21.5,-0.9),(21.5,1.2),(21.5,0.1),(21.5,-1.8),(22.5,0.4),(22.5,-0.6),(22.5,1.5),(22.5,-1.1),(23.5,-1.6),(23.5,0.8),(23.5,-0.3),(23.5,1.9),(24.5,0.0),(24.5,-1.2),(24.5,1.0),(24.5,-0.5),
(25.5,1.3),(25.5,-1.7),(25.5,0.3),(25.5,-0.8),(26.5,-0.1),(26.5,1.8),(26.5,-1.3),(26.5,0.7),(27.5,0.9),(27.5,-1.9),(27.5,0.2),(27.5,-0.4),(28.5,-1.0),(28.5,1.4),(28.5,-0.7),(28.5,0.5),(29.5,1.6),(29.5,-1.5),(29.5,-0.05),(29.5,1.1),
(30.5,1.7),(30.5,-0.2),(30.5,0.6),(30.5,-1.4),(31.5,-0.9),(31.5,1.2),(31.5,0.1),(31.5,-1.8),(32.5,0.4),(32.5,-0.6),(32.5,1.5),(32.5,-1.1),(33.5,-1.6),(33.5,0.8),(33.5,-0.3),(33.5,1.9),(34.5,0.0),(34.5,-1.2),(34.5,1.0),(34.5,-0.5),
(35.5,1.3),(35.5,-1.7),(35.5,0.3),(35.5,-0.8),(36.5,-0.1),(36.5,1.8),(36.5,-1.3),(36.5,0.7),(37.5,0.9),(37.5,-1.9),(37.5,0.2),(37.5,-0.4),(38.5,-1.0),(38.5,1.4),(38.5,-0.7),(38.5,0.5),(39.5,1.6),(39.5,-1.5),(39.5,-0.05),(39.5,1.1),
(40.5,1.7),(40.5,-0.2),(40.5,0.6),(40.5,-1.4),(41.5,-0.9),(41.5,1.2),(41.5,0.1),(41.5,-1.8),(42.5,0.4),(42.5,-0.6),(42.5,1.5),(42.5,-1.1),(43.5,-1.6),(43.5,0.8),(43.5,-0.3),(43.5,1.9),(44.5,0.0),(44.5,-1.2),(44.5,1.0),(44.5,-0.5),
(45.5,1.3),(45.5,-1.7),(45.5,0.3),(45.5,-0.8),(46.5,-0.1),(46.5,1.8),(46.5,-1.3),(46.5,0.7),(47.5,0.9),(47.5,-1.9),(47.5,0.2),(47.5,-0.4),(48.5,-1.0),(48.5,1.4),(48.5,-0.7),(48.5,0.5),(49.5,1.6),(49.5,-1.5),(49.5,-0.05),(49.5,1.1),
(50.5,1.7),(50.5,-0.2),(50.5,0.6),(50.5,-1.4),(51.5,-0.9),(51.5,1.2),(51.5,0.1),(51.5,-1.8),(52.5,0.4),(52.5,-0.6),(52.5,1.5),(52.5,-1.1),(53.5,-1.6),(53.5,0.8),(53.5,-0.3),(53.5,1.9),(54.5,0.0),(54.5,-1.2),(54.5,1.0),(54.5,-0.5),
(55.5,1.3),(55.5,-1.7),(55.5,0.3),(55.5,-0.8),(56.5,-0.1),(56.5,1.8),(56.5,-1.3),(56.5,0.7),(57.5,0.9),(57.5,-1.9),(57.5,0.2),(57.5,-0.4),(58.5,-1.0),(58.5,1.4),(58.5,-0.7),(58.5,0.5),(59.5,1.6),(59.5,-1.5),(59.5,-0.05),(59.5,1.1),
(60.5,1.7),(60.5,-0.2),(60.5,0.6),(60.5,-1.4),(61.5,-0.9),(61.5,1.2),(61.5,0.1),(61.5,-1.8),(62.5,0.4),(62.5,-0.6),(62.5,1.5),(62.5,-1.1),(63.5,-1.6),(63.5,0.8),(63.5,-0.3),(63.5,1.9),(64.5,0.0),(64.5,-1.2),(64.5,1.0),(64.5,-0.5),
(65.5,1.3),(65.5,-1.7),(65.5,0.3),(65.5,-0.8),(66.5,-0.1),(66.5,1.8),(66.5,-1.3),(66.5,0.7),(67.5,0.9),(67.5,-1.9),(67.5,0.2),(67.5,-0.4),(68.5,-1.0),(68.5,1.4),(68.5,-0.7),(68.5,0.5),(69.5,1.6),(69.5,-1.5),(69.5,-0.05),(69.5,1.1),
(70.5,1.7),(70.5,-0.2),(70.5,0.6),(70.5,-1.4),(71.5,-0.9),(71.5,1.2),(71.5,0.1),(71.5,-1.8),(72.5,0.4),(72.5,-0.6),(72.5,1.5),(72.5,-1.1),(73.5,-1.6),(73.5,0.8),(73.5,-0.3),(73.5,1.9),(74.5,0.0),(74.5,-1.2),(74.5,1.0),(74.5,-0.5),
(75.5,0.8),(75.5,-0.9),(76.5,-0.3),(76.5,1.5),(77.5,1.1),(77.5,-1.4),(78.5,-0.6),(78.5,0.4),(79.5,1.7),(79.5,-0.1),(80.5,-1.2),(80.5,0.6),(81.5,0.2),(81.5,-1.7),(82.5,1.3),(82.5,-0.5),(83.5,-0.8),(83.5,0.9),(84.5,0.0),(84.5,-1.1),
(85.5,0.8),(85.5,-0.9),(86.5,-0.3),(86.5,1.5),(87.5,1.1),(87.5,-1.4),(88.5,-0.6),(88.5,0.4),(89.5,1.7),(89.5,-0.1),(90.5,-1.2),(90.5,0.6),(91.5,0.2),(91.5,-1.7),(92.5,1.3),(92.5,-0.5),(93.5,-0.8),(93.5,0.9),(94.5,0.0),(94.5,-1.1),
(95.5,0.8),(95.5,-0.9),(96.5,-0.3),(96.5,1.5),(97.5,1.1),(97.5,-1.4),(98.5,-0.6),(98.5,0.4),(99.5,1.7),(99.5,-0.1),(100.5,-1.2),(100.5,0.6),(101.5,0.2),(101.5,-1.7),(102.5,1.3),(102.5,-0.5),(103.5,-0.8),(103.5,0.9),(104.5,0.0),(104.5,-1.1),
(105.5,0.8),(105.5,-0.9),(106.5,-0.3),(106.5,1.5),(107.5,1.1),(107.5,-1.4),(108.5,-0.6),(108.5,0.4),(109.5,1.7),(109.5,-0.1)
]

# ---------------- Panel 3: Time (x = day)
time_upper = [
(568,10.48),(539,10.12),(373,9.85),(21,8.0),(534,8.79),(491,8.6),(520,8.23),(484,7.53),(587,7.28),(1037,7.45),(399,6.83),(901,6.18),(441,5.62),(449,5.73),(555,5.21),(665,5.21),(190,5.1),(958,5.22),(986,5.1),(1081,5.08),
(11,4.57),(71,4.46),(223,4.43),(329,4.49),(407,4.74),(437,4.73),(444,4.54),(476,4.86),(519,4.43),(898,4.78),(911,4.57),(952,4.86),(1057,4.3),(1070,4.06),(1083,4.26),
(21,3.98),(72,3.93),(64,3.58),(107,4.26),(111,3.8),(179,4.06),(179,3.8),(368,4.01),(400,3.93),(588,4.22),(730,3.93),(799,3.93),(875,4.07),(876,3.66),(985,4.28),(1040,4.06),
(400,3.5),(408,3.34),(59,3.18),(30,3.18),(5,2.89),(86,3.42),(100,3.53),(142,3.29),(462,3.74),(666,3.66),(683,3.61),(611,3.58),(776,3.64),(957,3.52),(1021,3.5),(1064,3.5),(441,3.82),(473,3.9),
(272,3.13),(258,3.26),(312,2.62),(432,3.34),(481,3.18),(513,3.26),(607,3.34),(710,3.26),(718,3.02),(788,3.02),(935,2.94),(955,3.5),(1015,2.78),(1052,3.13),(1077,3.1),(206,2.86),(224,2.54),(360,2.54),(398,2.54),
(1,2.5),(40,3.26),(105,2.94),(135,2.81),(236,2.94),(304,3.18),(570,2.54),(640,2.97),(652,2.62),(737,2.94),(830,2.91),(868,2.62),(882,2.7),(927,2.94),(981,3.26),(1081,2.78),(1056,2.62),
(37,2.3),(86,2.3),(134,2.38),(215,2.22),(258,2.38),(301,2.14),(360,2.14),(398,2.06),(484,2.38),(505,2.14),(532,2.3),(602,2.22),(656,2.14),(710,2.3),(731,2.54),(796,2.22),(836,2.38),(882,2.3),(946,2.22),(978,2.38),(1032,2.3),(1073,2.22)
]
time_lower = [
(5,-2.51),(8,-2.88),(13,-3.23),(32,-2.91),(45,-2.35),(21,-2.4),(2,-4.86),(29,-6.07),(59,-4.79),(72,-4.27),(73,-3.52),(94.5,-3.1),(147,-3.31),(135.5,-3.84),(195.5,-2.59),(201,-2.43),(261,-2.56),(301,-3.15),(266,-3.6),(344,-2.83),(336.5,-2.63),(379,-2.43),(410.6,-4.22),(435.5,-3.04),(455.8,-2.8),(465.5,-3.15),(466,-3.68),(471,-3.79),(492,-3.63),(497.7,-2.75),(513,-5.7),(486,-6.9),(532,-2.7),(548,-3.74),(589,-2.59),(618,-2.8),(629,-2.96),(634,-3.23),(659,-3.23),(669,-2.55),(684,-3.47),(707,-3.31),(731,-3.63),(682.6,-5.89),(727,-5.54),(818,-4.19),(842,-3.55),(919,-2.56),(937,-3.23),(975,-3.07),(976,-3.44),(1057,-3.87),(1054,-2.67),(1094,-2.75),
(20,-2.3),(48,-2.2),(58,-2.4),(107,-2.2),(123,-2.1),(145,-2.05),(198,-2.45),(265,-2.2),(338,-2.35),(376,-2.25),(413,-2.35),(478,-2.1),(505,-2.2),(532,-2.35),(580,-2.25),(591,-2.2),(604,-2.25),(645,-2.3),(709,-2.25),(843,-2.25),(860,-2.2),(957,-2.1),(984,-2.2),(1038,-2.2),(1065,-2.05)
]
time_core = [
(2,0.4),(3,-1.2),(5,1.5),(6,-0.3),(8,0.9),(9,-1.8),(11,0.1),(12,1.9),(14,-0.7),(15,0.6),(17,-1.4),(18,1.2),(20,-0.1),(21,2.2),(23,-0.9),(24,0.3),(26,1.6),(27,-2.0),(29,0.8),(30,-0.5),(32,1.1),(34,-1.1),(36,0.0),(38,1.4),(41,-1.6),(43,0.5),(45,-0.2),(47,1.8),(49,-0.8),(50,0.2),
(52,-1.0),(54,0.7),(55,1.7),(57,-0.4),(58,0.2),(60,-1.5),(62,1.0),(63,-0.1),(65,0.5),(67,-1.9),(68,1.3),(70,-0.6),(72,0.0),(73,1.9),(75,-1.2),(77,0.4),(78,-0.3),(80,1.1),(82,-0.8),(84,0.8),(86,-1.6),(88,1.5),(90,0.1),(92,-0.5),(95,1.2),(97,-1.3),(99,0.6),
(101,-0.2),(103,1.4),(105,-1.1),(106,0.3),(108,0.9),(110,-0.6),(112,1.8),(113,-1.7),(115,0.0),(117,0.7),(119,-0.9),(121,1.2),(123,-0.3),(125,0.5),(126,-1.4),(128,1.6),(130,0.2),(132,-0.7),(134,1.0),(136,-1.9),(138,0.4),(140,-0.1),(142,1.3),(144,-1.0),(146,0.8),(148,-0.4),(150,1.7),
(151,-1.2),(153,0.1),(155,0.9),(157,-0.5),(159,1.5),(161,-1.6),(162,0.4),(164,-0.2),(166,1.1),(168,-0.9),(170,0.6),(172,1.9),(174,-1.3),(176,0.0),(178,0.8),(180,-0.6),(182,1.3),(184,-1.8),(186,0.3),(188,-0.1),(190,1.0),(192,-1.1),(194,0.5),(196,1.6),(198,-0.4),(200,0.2),
(202,-0.8),(204,1.2),(205,0.3),(207,-1.5),(209,0.7),(211,-0.2),(213,1.7),(215,-1.0),(217,0.1),(219,0.9),(221,-0.6),(223,1.4),(225,-1.9),(227,0.5),(229,-0.3),(231,1.1),(233,-1.2),(235,0.0),(237,0.8),(239,-0.7),(241,1.9),(243,-1.4),(245,0.4),(247,-0.1),(249,1.3),(250,-0.9),
(252,0.6),(254,-1.1),(256,1.5),(258,-0.3),(260,0.2),(262,-1.7),(264,1.0),(266,0.0),(268,-0.6),(270,1.8),(272,-1.3),(274,0.4),(276,-0.2),(278,1.2),(280,-0.9),(282,0.7),(284,-1.6),(286,0.1),(288,1.4),(290,-0.5),(292,0.9),(294,-1.0),(296,0.3),(298,1.6),(300,-0.4),
(302,-1.4),(304,0.5),(306,1.1),(308,-0.1),(310,0.8),(312,-0.8),(314,1.7),(316,-1.2),(318,0.2),(320,-0.4),(322,1.3),(324,-1.8),(326,0.6),(328,0.0),(330,1.0),(332,-0.7),(334,1.9),(336,-1.1),(338,0.3),(340,-0.2),(342,0.9),(344,-1.5),(346,1.4),(348,-0.6),(350,0.4),
(352,1.2),(354,-0.5),(356,0.1),(358,-1.6),(360,0.7),(362,1.8),(364,-0.9),(366,0.3),(368,-0.2),(370,1.5),(372,-1.3),(374,0.5),(376,-0.6),(378,1.0),(380,0.0),(382,-1.1),(384,1.6),(386,-0.3),(388,0.8),(390,-1.9),(392,0.2),(394,1.3),(396,-0.8),(398,0.6),(400,-0.1),
(402,1.4),(404,-1.0),(406,0.3),(408,-0.4),(410,0.9),(412,-1.5),(414,1.7),(416,0.1),(418,-0.7),(420,1.1),(422,-1.2),(424,0.5),(426,0.0),(428,-1.8),(430,1.3),(432,-0.3),(434,0.7),(436,-0.9),(438,1.9),(440,-0.5),(442,0.2),(444,-1.4),(446,1.0),(448,-0.1),(450,0.6),
(452,-1.1),(454,1.5),(456,0.2),(458,-0.6),(460,1.0),(462,-1.7),(464,0.4),(466,-0.2),(468,1.3),(470,-0.9),(472,0.7),(474,0.0),(476,-1.3),(478,1.8),(480,-0.4),(482,0.9),(484,-1.0),(486,0.3),(488,1.6),(490,-1.9),(492,0.5),(494,-0.3),(496,1.2),(498,-0.7),(500,0.1),
(502,1.0),(504,-0.5),(506,0.4),(508,-1.4),(510,1.7),(512,-0.1),(514,0.8),(516,-1.1),(518,0.2),(520,1.4),(522,-0.8),(524,0.6),(526,-1.8),(528,0.0),(530,1.2),(532,-0.4),(534,0.9),(536,-1.2),(538,1.9),(540,-0.6),(542,0.3),(544,-0.2),(546,1.1),(548,-1.5),(550,0.5),
(552,-0.3),(554,1.3),(556,-1.0),(558,0.5),(560,0.0),(562,-1.6),(564,1.6),(566,-0.5),(568,0.8),(570,-0.1),(572,1.1),(574,-1.3),(576,0.3),(578,-0.7),(580,1.8),(582,-0.2),(584,0.6),(586,-1.9),(588,1.0),(590,0.2),(592,-0.9),(594,1.4),(596,-0.4),(598,0.7),(600,-1.2),
(602,0.4),(604,-0.8),(606,1.5),(608,-0.2),(610,0.9),(612,-1.4),(614,0.1),(616,1.2),(618,-0.6),(620,0.5),(622,-1.7),(624,1.7),(626,-0.1),(628,0.8),(630,-1.0),(632,0.3),(634,1.9),(636,-0.4),(638,-1.2),(640,0.6),(642,1.1),(644,-0.7),(646,0.0),(648,1.4),(650,-1.5),
(652,0.2),(654,1.0),(656,-0.9),(658,0.5),(660,-0.3),(662,1.6),(664,-1.6),(666,0.7),(668,0.0),(670,-0.6),(672,1.3),(674,-1.1),(676,0.4),(678,1.8),(680,-0.2),(682,0.9),(684,-1.4),(686,0.1),(688,1.1),(690,-0.8),(692,0.6),(694,-1.9),(696,1.5),(698,-0.4),(700,0.3),
(702,-1.0),(704,0.8),(706,1.4),(708,-0.3),(710,0.2),(712,-1.5),(714,1.0),(716,-0.1),(718,0.6),(720,-0.8),(722,1.7),(724,-1.2),(726,0.4),(728,0.0),(730,1.2),(732,-0.6),(734,0.9),(736,-1.8),(738,0.3),(740,1.5),(742,-0.4),(744,0.7),(746,-1.1),(748,1.9),(750,-0.2),
(752,0.5),(754,-0.9),(756,1.2),(758,0.0),(760,-1.4),(762,0.8),(764,1.6),(766,-0.5),(768,0.2),(770,-1.1),(772,1.0),(774,-0.2),(776,0.6),(778,-1.7),(780,1.4),(782,-0.7),(784,0.3),(786,1.8),(788,-0.3),(790,0.9),(792,-1.3),(794,0.1),(796,1.1),(798,-0.8),(800,0.4),
(802,-0.5),(804,1.3),(806,-1.2),(808,0.4),(810,0.0),(812,1.7),(814,-0.8),(816,0.7),(818,-0.2),(820,1.0),(822,-1.6),(824,0.3),(826,1.5),(828,-0.4),(830,0.8),(832,-1.0),(834,0.1),(836,1.9),(838,-1.3),(840,0.5),(842,-0.1),(844,1.2),(846,-0.7),(848,0.6),(850,-1.9),
(852,1.1),(854,-0.3),(856,0.6),(858,-1.5),(860,0.2),(862,1.6),(864,-0.8),(866,0.0),(868,0.9),(870,-1.1),(872,1.4),(874,-0.5),(876,0.4),(878,-1.8),(880,1.0),(882,-0.1),(884,0.7),(886,-1.2),(888,1.8),(890,-0.4),(892,0.3),(894,-0.9),(896,1.2),(898,0.1),(900,-0.6),
(902,0.8),(904,-1.3),(906,1.5),(908,-0.2),(910,0.4),(912,-0.9),(914,1.1),(916,0.0),(918,-1.6),(920,0.6),(922,1.9),(924,-0.6),(926,0.2),(928,-1.0),(930,1.3),(932,-0.3),(934,0.7),(936,-1.4),(938,1.6),(940,-0.1),(942,0.5),(944,-0.8),(946,1.0),(948,-1.9),(950,0.3),
(952,-0.4),(954,1.2),(956,0.1),(958,-1.2),(960,0.8),(962,1.7),(964,-0.7),(966,0.3),(968,-0.1),(970,1.4),(972,-1.5),(974,0.6),(976,-0.3),(978,1.0),(980,-0.9),(982,0.0),(984,1.8),(986,-1.1),(988,0.5),(990,-0.5),(992,1.3),(994,-1.8),(996,0.2),(998,0.9),(1000,-0.2),
(1002,1.0),(1004,-0.6),(1006,0.3),(1008,-1.4),(1010,1.6),(1012,0.0),(1014,-0.9),(1016,0.7),(1018,-0.2),(1020,1.3),(1022,-1.1),(1024,0.4),(1026,1.9),(1028,-0.4),(1030,0.9),(1032,-1.7),(1034,0.1),(1036,1.1),(1038,-0.7),(1040,0.5),(1042,-0.1),(1044,1.5),(1046,-1.3),(1048,0.2),(1050,0.8),
(1052,-0.5),(1054,1.2),(1056,-1.0),(1058,0.4),(1060,0.0),(1062,1.7),(1064,-1.5),(1066,0.6),(1068,-0.2),(1070,1.0),(1072,-0.8),(1074,0.3),(1076,1.4),(1078,-1.2),(1080,0.1),(1082,0.9),(1084,-0.4),(1086,1.8),(1088,-1.8),(1090,0.5),(1092,-0.1),(1094,1.1),(1096,-0.6)
]
time_dense = [
(1,0.3),(4,-0.7),(7,0.9),(10,-0.2),(13,0.5),(16,-1.0),(19,0.1),(22,0.7),(25,-0.5),(28,0.0),(31,-0.85),(34,0.6),(37,-0.3),(40,1.0),(43,-0.6),(46,0.2),(49,-0.1),(52,0.8),(55,-0.9),(58,0.4),(61,-0.4),(64,0.65),(67,-0.75),(70,0.15),(73,0.95),(76,-0.25),(79,0.45),(82,-0.95),(85,0.05),(88,0.55),(91,-0.55),(94,0.85),(97,-0.15),(100,0.35),(103,-0.65),(106,0.75),(109,-0.35),(112,0.25),(115,-0.8),(118,0.9),
(121,-0.4),(124,0.8),(127,-0.1),(130,0.45),(133,-0.9),(136,0.2),(139,0.65),(142,-0.6),(145,0.0),(148,0.95),(151,-0.3),(154,0.35),(157,-0.75),(160,0.1),(163,0.55),(166,-0.45),(169,0.85),(172,-0.2),(175,0.25),(178,-1.0),(181,0.7),(184,-0.05),(187,0.4),(190,-0.65),(193,0.9),(196,-0.35),(199,0.15),(202,-0.85),(205,0.6),(208,0.05),(211,-0.55),(214,0.75),(217,-0.15),(220,0.3),(223,-0.95),(226,0.5),(229,-0.25),(232,1.0),(235,-0.7),(238,0.2),
(241,0.6),(244,-0.2),(247,-0.9),(250,0.35),(253,0.8),(256,-0.5),(259,0.1),(262,-0.7),(265,0.95),(268,0.0),(271,-0.4),(274,0.5),(277,-1.0),(280,0.25),(283,0.7),(286,-0.3),(289,0.15),(292,-0.8),(295,0.9),(298,-0.1),(301,0.45),(304,-0.6),(307,0.05),(310,0.85),(313,-0.45),(316,0.3),(319,-0.95),(322,0.65),(325,-0.15),(328,0.4),(331,-0.75),(334,1.0),(337,-0.35),(340,0.2),(343,-0.55),(346,0.75),(349,0.0),(352,-0.85),(355,0.55),(358,-0.25),
(361,-0.6),(364,0.3),(367,0.9),(370,-0.15),(373,0.5),(376,-0.95),(379,0.1),(382,0.75),(385,-0.4),(388,0.0),(391,-0.8),(394,0.6),(397,-0.25),(400,0.95),(403,-0.55),(406,0.2),(409,-0.05),(412,0.8),(415,-0.9),(418,0.4),(421,-0.35),(424,0.65),(427,-0.7),(430,0.15),(433,1.0),(436,-0.2),(439,0.45),(442,-1.0),(445,0.05),(448,0.55),(451,-0.5),(454,0.85),(457,-0.1),(460,0.35),(463,-0.65),(466,0.7),(469,-0.3),(472,0.25),(475,-0.85),(478,0.9),
(481,0.3),(484,-0.7),(487,0.9),(490,-0.2),(493,0.5),(496,-1.0),(499,0.1),(502,0.7),(505,-0.5),(508,0.0),(511,-0.85),(514,0.6),(517,-0.3),(520,1.0),(523,-0.6),(526,0.2),(529,-0.1),(532,0.8),(535,-0.9),(538,0.4),(541,-0.4),(544,0.65),(547,-0.75),(550,0.15),(553,0.95),(556,-0.25),(559,0.45),(562,-0.95),(565,0.05),(568,0.55),(571,-0.55),(574,0.85),(577,-0.15),(580,0.35),(583,-0.65),(586,0.75),(589,-0.35),(592,0.25),(595,-0.8),(598,0.9),
(601,-0.4),(604,0.8),(607,-0.1),(610,0.45),(613,-0.9),(616,0.2),(619,0.65),(622,-0.6),(625,0.0),(628,0.95),(631,-0.3),(634,0.35),(637,-0.75),(640,0.1),(643,0.55),(646,-0.45),(649,0.85),(652,-0.2),(655,0.25),(658,-1.0),(661,0.7),(664,-0.05),(667,0.4),(670,-0.65),(673,0.9),(676,-0.35),(679,0.15),(682,-0.85),(685,0.6),(688,0.05),(691,-0.55),(694,0.75),(697,-0.15),(700,0.3),(703,-0.95),(706,0.5),(709,-0.25),(712,1.0),(715,-0.7),(718,0.2),
(721,0.6),(724,-0.2),(727,-0.9),(730,0.35),(733,0.8),(736,-0.5),(739,0.1),(742,-0.7),(745,0.95),(748,0.0),(751,-0.4),(754,0.5),(757,-1.0),(760,0.25),(763,0.7),(766,-0.3),(769,0.15),(772,-0.8),(775,0.9),(778,-0.1),(781,0.45),(784,-0.6),(787,0.05),(790,0.85),(793,-0.45),(796,0.3),(799,-0.95),(802,0.65),(805,-0.15),(808,0.4),(811,-0.75),(814,1.0),(817,-0.35),(820,0.2),(823,-0.55),(826,0.75),(829,0.0),(832,-0.85),(835,0.55),(838,-0.25),
(841,-0.6),(844,0.3),(847,0.9),(850,-0.15),(853,0.5),(856,-0.95),(859,0.1),(862,0.75),(865,-0.4),(868,0.0),(871,-0.8),(874,0.6),(877,-0.25),(880,0.95),(883,-0.55),(886,0.2),(889,-0.05),(892,0.8),(895,-0.9),(898,0.4),(901,-0.35),(904,0.65),(907,-0.7),(910,0.15),(913,1.0),(916,-0.2),(919,0.45),(922,-1.0),(925,0.05),(928,0.55),(931,-0.5),(934,0.85),(937,-0.1),(940,0.35),(943,-0.65),(946,0.7),(949,-0.3),(952,0.25),(955,-0.85),(958,0.9),
(961,0.3),(964,-0.7),(967,0.9),(970,-0.2),(973,0.5),(976,-1.0),(979,0.1),(982,0.7),(985,-0.5),(988,0.0),(991,-0.85),(994,0.6),(997,-0.3),(1000,1.0),(1003,-0.6),(1006,0.2),(1009,-0.1),(1012,0.8),(1015,-0.9),(1018,0.4),(1021,-0.4),(1024,0.65),(1027,-0.75),(1030,0.15),(1033,0.95),(1036,-0.25),(1039,0.45),(1042,-0.95),(1045,0.05),(1048,0.55),(1051,-0.55),(1054,0.85),(1057,-0.15),(1060,0.35),(1063,-0.65),(1066,0.75),(1069,-0.35),(1072,0.25),(1075,-0.8),(1078,0.9),
(1081,0.4),(1084,-0.6),(1087,0.8),(1090,-0.2),(1093,0.1),(1096,-0.9)
]
time_dense2 = [
(2,-0.5),(5,0.4),(8,0.9),(11,-0.1),(14,-0.8),(17,0.2),(20,0.6),(23,-0.35),(26,0.05),(29,-0.65),(32,0.75),(35,-0.2),(38,0.3),(41,-0.9),(44,0.5),(47,0.1),(50,-0.45),(53,0.85),(56,-0.7),(59,0.15),(62,-0.05),(65,0.55),(68,-0.55),(71,0.25),(74,-0.3),(77,0.7),(80,-0.85),(83,0.35),(86,-0.15),(89,0.65),
(92,0.6),(95,-0.25),(98,-0.75),(101,0.45),(104,0.1),(107,-0.55),(110,0.8),(113,-0.05),(116,0.35),(119,-0.9),(122,0.2),(125,0.65),(128,-0.4),(131,0.0),(134,0.9),(137,-0.6),(140,0.3),(143,-0.15),(146,-0.8),(149,0.5),(152,0.15),(155,-0.35),(158,0.75),(161,-0.7),(164,0.05),(167,0.55),(170,-0.45),(173,0.25),(176,-0.2),(179,0.85),
(182,-0.5),(185,0.4),(188,0.9),(191,-0.1),(194,-0.8),(197,0.2),(200,0.6),(203,-0.35),(206,0.05),(209,-0.65),(212,0.75),(215,-0.2),(218,0.3),(221,-0.9),(224,0.5),(227,0.1),(230,-0.45),(233,0.85),(236,-0.7),(239,0.15),(242,-0.05),(245,0.55),(248,-0.55),(251,0.25),(254,-0.3),(257,0.7),(260,-0.85),(263,0.35),(266,-0.15),(269,0.65),
(272,0.6),(275,-0.25),(278,-0.75),(281,0.45),(284,0.1),(287,-0.55),(290,0.8),(293,-0.05),(296,0.35),(299,-0.9),(302,0.2),(305,0.65),(308,-0.4),(311,0.0),(314,0.9),(317,-0.6),(320,0.3),(323,-0.15),(326,-0.8),(329,0.5),(332,0.15),(335,-0.35),(338,0.75),(341,-0.7),(344,0.05),(347,0.55),(350,-0.45),(353,0.25),(356,-0.2),(359,0.85),
(362,-0.5),(365,0.4),(368,0.9),(371,-0.1),(374,-0.8),(377,0.2),(380,0.6),(383,-0.35),(386,0.05),(389,-0.65),(392,0.75),(395,-0.2),(398,0.3),(401,-0.9),(404,0.5),(407,0.1),(410,-0.45),(413,0.85),(416,-0.7),(419,0.15),(422,-0.05),(425,0.55),(428,-0.55),(431,0.25),(434,-0.3),(437,0.7),(440,-0.85),(443,0.35),(446,-0.15),(449,0.65),
(452,0.6),(455,-0.25),(458,-0.75),(461,0.45),(464,0.1),(467,-0.55),(470,0.8),(473,-0.05),(476,0.35),(479,-0.9),(482,0.2),(485,0.65),(488,-0.4),(491,0.0),(494,0.9),(497,-0.6),(500,0.3),(503,-0.15),(506,-0.8),(509,0.5),(512,0.15),(515,-0.35),(518,0.75),(521,-0.7),(524,0.05),(527,0.55),(530,-0.45),(533,0.25),(536,-0.2),(539,0.85),
(542,-0.5),(545,0.4),(548,0.9),(551,-0.1),(554,-0.8),(557,0.2),(560,0.6),(563,-0.35),(566,0.05),(569,-0.65),(572,0.75),(575,-0.2),(578,0.3),(581,-0.9),(584,0.5),(587,0.1),(590,-0.45),(593,0.85),(596,-0.7),(599,0.15),(602,-0.05),(605,0.55),(608,-0.55),(611,0.25),(614,-0.3),(617,0.7),(620,-0.85),(623,0.35),(626,-0.15),(629,0.65),
(632,0.6),(635,-0.25),(638,-0.75),(641,0.45),(644,0.1),(647,-0.55),(650,0.8),(653,-0.05),(656,0.35),(659,-0.9),(662,0.2),(665,0.65),(668,-0.4),(671,0.0),(674,0.9),(677,-0.6),(680,0.3),(683,-0.15),(686,-0.8),(689,0.5),(692,0.15),(695,-0.35),(698,0.75),(701,-0.7),(704,0.05),(707,0.55),(710,-0.45),(713,0.25),(716,-0.2),(719,0.85),
(722,-0.5),(725,0.4),(728,0.9),(731,-0.1),(734,-0.8),(737,0.2),(740,0.6),(743,-0.35),(746,0.05),(749,-0.65),(752,0.75),(755,-0.2),(758,0.3),(761,-0.9),(764,0.5),(767,0.1),(770,-0.45),(773,0.85),(776,-0.7),(779,0.15),(782,-0.05),(785,0.55),(788,-0.55),(791,0.25),(794,-0.3),(797,0.7),(800,-0.85),(803,0.35),(806,-0.15),(809,0.65),
(812,0.6),(815,-0.25),(818,-0.75),(821,0.45),(824,0.1),(827,-0.55),(830,0.8),(833,-0.05),(836,0.35),(839,-0.9),(842,0.2),(845,0.65),(848,-0.4),(851,0.0),(854,0.9),(857,-0.6),(860,0.3),(863,-0.15),(866,-0.8),(869,0.5),(872,0.15),(875,-0.35),(878,0.75),(881,-0.7),(884,0.05),(887,0.55),(890,-0.45),(893,0.25),(896,-0.2),(899,0.85),
(902,-0.5),(905,0.4),(908,0.9),(911,-0.1),(914,-0.8),(917,0.2),(920,0.6),(923,-0.35),(926,0.05),(929,-0.65),(932,0.75),(935,-0.2),(938,0.3),(941,-0.9),(944,0.5),(947,0.1),(950,-0.45),(953,0.85),(956,-0.7),(959,0.15),(962,-0.05),(965,0.55),(968,-0.55),(971,0.25),(974,-0.3),(977,0.7),(980,-0.85),(983,0.35),(986,-0.15),(989,0.65),
(992,0.6),(995,-0.25),(998,-0.75),(1001,0.45),(1004,0.1),(1007,-0.55),(1010,0.8),(1013,-0.05),(1016,0.35),(1019,-0.9),(1022,0.2),(1025,0.65),(1028,-0.4),(1031,0.0),(1034,0.9),(1037,-0.6),(1040,0.3),(1043,-0.15),(1046,-0.8),(1049,0.5),(1052,0.15),(1055,-0.35),(1058,0.75),(1061,-0.7),(1064,0.05),(1067,0.55),(1070,-0.45),(1073,0.25),(1076,-0.2),(1079,0.85),
(1082,-0.5),(1085,0.4),(1088,0.9),(1091,-0.1),(1094,-0.8)
]

# ---------------- Panel 4: Temperature (x = deg C)
temp_upper = [
(31.13,10.48),(34.6,10.12),(23.77,9.85),(34.2,8.79),(36.55,8.6),(37.06,8.23),(27.44,8.0),(26.79,7.45),(32.2,7.53),(29.7,7.28),(27.16,6.83),(33.3,6.18),(30.26,5.62),(30.21,5.73),(33.35,5.22),(29.01,5.22),(24.95,5.08),(34.6,5.1),(30.48,5.21),(30.81,5.1),
(24.38,4.57),(27.59,4.74),(27.7,4.54),(27.94,4.46),(31.17,4.69),(32.0,4.86),(32.15,4.86),(32.51,4.57),(32.84,4.74),(37.2,4.43),(24.94,4.22),(25.18,3.93),(25.38,4.09),(25.64,3.48),(25.97,4.06),(26.66,3.96),(27.12,3.96),(27.38,4.02),(27.92,3.93),(28.13,3.93),(28.32,3.71),(28.21,3.5),(28.45,3.71),
(29.01,3.77),(29.12,3.64),(29.66,3.42),(29.89,3.55),(29.68,4.22),(30.93,3.74),(31.13,4.22),(30.53,4.54),(30.72,4.3),(32.04,4.43),(32.15,3.82),(32.24,3.71),(32.31,3.55),(32.76,3.85),(34.07,4.06),(34.07,3.82),(37.31,3.26),(23.74,3.18),(24.01,2.62),(23.77,2.3),(24.2,2.18),
(25.03,3.1),(25.18,2.78),(25.38,2.92),(25.81,2.91),(25.9,2.54),(26.16,2.66),(26.37,2.94),(26.56,3.1),(26.66,3.42),(26.81,3.13),(26.92,2.94),(27.11,3.11),(27.22,3.26),(27.65,2.54),(27.92,2.97),(28.32,3.45),(28.74,3.61),(28.9,3.79),(29.31,3.77),(28.93,2.94),(29.09,2.81),(29.33,2.62),(29.57,3.42),
(30.21,3.26),(30.58,3.31),(30.81,3.31),(30.97,3.1),(31.12,2.62),(31.25,2.97),(31.56,2.94),(31.8,3.9),(32.0,3.42),(32.12,3.26),(32.52,3.1),(32.87,2.94),(32.87,2.54),(33.48,2.91),(33.64,3.29),(33.96,3.18),(34.12,2.78),(34.36,2.86),(34.84,2.7),(35.0,2.86),(35.32,2.62),(38.75,2.18),(39.2,2.18),
(25.6,2.3),(26.1,2.2),(26.9,2.4),(27.4,2.15),(28.0,2.3),(28.6,2.25),(29.8,2.35),(30.4,2.2),(31.0,2.45),(31.7,2.2),(32.3,2.35),(33.0,2.2),(33.8,2.4),(34.5,2.2),(35.1,2.1),
(37.16,1.69),(37.08,1.48),(37.64,1.14),(37.88,0.93),(39.23,0.93),(22.97,0.03)
]
temp_lower = [
(22.97,-1.15),(22.99,-1.88),(23.74,-2.88),(23.74,-3.23),(24.06,-3.63),(25.18,-2.83),(25.25,-2.67),(25.7,-2.67),(25.86,-2.88),(25.7,-3.87),(25.29,-4.86),(26.53,-4.78),(26.64,-6.07),(27.38,-3.31),(27.73,-5.55),(27.84,-3.15),(27.92,-3.31),(28.0,-3.52),(27.92,-4.23),(28.85,-4.22),(29.14,-3.04),(29.25,-5.89),(29.68,-3.76),(30.5,-4.19),
(31.0,-3.07),(31.09,-3.23),(31.53,-3.23),(31.53,-2.91),(31.97,-3.79),(32.04,-3.63),(32.12,-3.47),(32.15,-3.15),(32.04,-6.9),(32.39,-2.75),(32.71,-2.88),(33.08,-2.91),(33.13,-3.58),(33.48,-3.31),(34.15,-3.82),(34.39,-2.72),(34.39,-2.4),(34.95,-2.75),(35.32,-2.43),(34.84,-2.2),(36.56,-3.63),(37.31,-5.7),(37.59,-2.19),(37.87,-1.96),(37.59,-1.6),(39.2,-1.16),
(23.98,-1.92),(25.97,-1.88),(26.37,-2.35),(26.69,-2.43),(27.01,-2.27),(27.17,-2.67),(27.49,-2.35),(27.89,-2.27),(28.53,-2.2),(28.61,-2.35),(29.41,-2.46),(29.73,-2.2),(30.29,-2.27),(31.0,-2.67),(31.17,-2.35),(31.56,-2.59),(31.76,-2.55),(32.44,-2.35),(32.76,-2.75),(33.2,-2.88),(34.12,-2.27),(34.36,-2.03),(35.32,-2.03)
]
temp_core = [
(23.35,0.4),(23.4,-0.5),(23.45,0.9),(23.48,-0.1),
(23.52,0.6),(23.55,-0.9),(23.6,0.2),(23.63,1.2),(23.67,-0.3),(23.72,0.8),(23.77,-0.6),(23.82,0.0),(23.88,1.0),(23.95,-0.2),
(24.03,0.5),(24.08,-0.8),(24.13,0.1),(24.2,0.7),(24.26,-0.4),(24.31,-1.1),(24.37,0.3),(24.43,-0.6),(24.48,0.2),
(24.55,-0.3),(24.62,0.4),(24.7,-1.0),(24.78,0.1),(24.86,0.9),(24.94,-0.5),
(25.02,1.0),(25.06,-0.4),(25.1,0.3),(25.14,-1.3),(25.18,0.7),(25.22,-0.1),(25.27,1.5),(25.31,-0.8),(25.36,0.2),(25.4,-1.6),(25.44,0.9),(25.48,-0.3),
(25.51,0.5),(25.53,-1.0),(25.56,1.3),(25.58,-0.2),(25.61,0.1),(25.63,1.8),(25.66,-1.4),(25.68,0.7),(25.71,-0.6),(25.73,0.3),(25.76,1.1),(25.78,-0.9),(25.81,0.0),(25.83,1.6),(25.86,-1.7),(25.88,0.4),(25.9,-0.4),(25.92,0.9),(25.94,-1.2),(25.96,0.2),(25.98,1.4),(25.99,-0.7),
(26.01,0.6),(26.03,-0.3),(26.05,1.2),(26.07,-1.1),(26.09,0.1),(26.11,1.9),(26.13,-0.6),(26.15,0.4),(26.17,-1.6),(26.19,0.9),(26.21,-0.1),(26.23,1.5),(26.25,-0.9),(26.27,0.3),(26.29,-0.4),(26.31,1.0),(26.33,-1.4),(26.35,0.7),(26.37,0.0),(26.39,1.7),(26.41,-0.7),(26.43,0.5),(26.45,-1.9),(26.46,1.3),(26.48,-0.2),(26.5,0.8),
(26.52,-1.0),(26.54,0.2),(26.56,1.4),(26.58,-0.5),(26.6,0.7),(26.62,-1.5),(26.64,1.0),(26.66,0.0),(26.68,-0.3),(26.7,1.8),(26.72,-1.2),(26.74,0.4),(26.76,-0.7),(26.78,1.2),(26.8,0.1),(26.82,-1.8),(26.84,0.9),(26.86,-0.1),(26.88,1.6),(26.9,-0.9),(26.92,0.5),(26.94,-0.4),(26.95,1.1),(26.96,-1.3),(26.98,0.3),(26.99,2.0),
(27.02,-0.6),(27.04,0.8),(27.06,-1.4),(27.08,0.2),(27.1,1.5),(27.12,-0.2),(27.14,0.6),(27.16,-1.0),(27.18,1.9),(27.2,0.0),(27.22,-0.5),(27.24,1.1),(27.26,-1.7),(27.28,0.4),(27.3,-0.1),(27.32,1.3),(27.34,-0.8),(27.36,0.7),(27.38,-1.2),(27.4,1.6),(27.42,0.1),(27.44,-0.4),(27.46,0.9),(27.48,-1.9),(27.5,0.3),
(27.52,1.2),(27.54,-0.3),(27.56,0.5),(27.59,-1.1),(27.61,1.7),(27.63,0.0),(27.66,-0.7),(27.68,0.9),(27.7,-1.5),(27.73,0.3),(27.75,1.4),(27.77,-0.2),(27.8,0.6),(27.82,-1.3),(27.84,1.0),(27.87,-0.5),(27.89,0.2),(27.91,1.8),(27.93,-0.9),(27.95,0.4),(27.96,-1.7),(27.97,1.1),(27.98,-0.1),(27.99,0.7),
(28.03,-0.4),(28.05,1.3),(28.08,0.1),(28.1,-1.2),(28.13,0.7),(28.15,-0.1),(28.18,1.6),(28.2,-0.8),(28.23,0.4),(28.25,-1.6),(28.28,1.0),(28.3,0.0),(28.33,-0.5),(28.35,1.9),(28.38,-1.0),(28.4,0.5),(28.43,-0.3),(28.45,1.2),(28.47,-1.4),(28.49,0.2),
(28.53,0.9),(28.56,-0.6),(28.6,0.3),(28.63,-1.3),(28.66,1.4),(28.7,0.0),(28.73,-0.9),(28.76,0.6),(28.8,1.8),(28.83,-0.3),(28.86,-1.7),(28.9,0.4),(28.93,1.1),(28.96,-0.5),(28.99,0.1),
(29.03,-1.0),(29.07,0.5),(29.1,1.5),(29.14,-0.2),(29.18,0.2),(29.21,-1.5),(29.25,0.9),(29.28,-0.6),(29.32,1.2),(29.36,0.0),(29.39,-1.2),(29.43,0.6),(29.46,-0.3),(29.49,1.7),
(29.52,-0.8),(29.54,0.3),(29.57,1.1),(29.59,-1.4),(29.62,0.6),(29.64,-0.1),(29.67,1.6),(29.69,-0.7),(29.72,0.2),(29.74,-1.8),(29.77,0.9),(29.79,-0.4),(29.82,1.3),(29.84,0.0),(29.87,-1.1),(29.89,0.7),(29.92,1.9),(29.94,-0.5),(29.97,0.4),(29.99,-1.3),
(30.02,0.8),(30.04,-0.2),(30.06,1.4),(30.08,-1.0),(30.1,0.3),(30.13,-0.6),(30.15,1.7),(30.17,0.1),(30.19,-1.5),(30.21,0.9),(30.24,-0.3),(30.26,1.2),(30.28,0.5),(30.3,-1.9),(30.32,0.0),(30.35,1.0),(30.37,-0.8),(30.39,0.4),(30.41,-1.2),(30.43,1.5),(30.45,-0.4),(30.47,0.7),(30.48,-0.1),(30.5,2.0),
(30.52,-0.5),(30.54,0.6),(30.56,-1.3),(30.58,1.1),(30.6,0.2),(30.62,-0.2),(30.64,1.8),(30.66,-0.9),(30.68,0.4),(30.7,-1.6),(30.72,0.9),(30.74,0.0),(30.76,1.4),(30.78,-0.6),(30.8,0.3),(30.82,-1.1),(30.84,1.6),(30.86,-0.3),(30.88,0.7),(30.9,-1.8),(30.92,1.2),(30.94,0.1),(30.95,-0.7),(30.96,0.5),(30.98,1.9),(30.99,-1.0),
(31.01,0.2),(31.03,-0.4),(31.05,1.3),(31.07,-1.2),(31.09,0.6),(31.11,-0.1),(31.13,1.0),(31.15,-0.8),(31.17,1.7),(31.19,0.3),(31.21,-1.5),(31.23,0.8),(31.25,-0.3),(31.27,1.5),(31.29,0.0),(31.31,-1.0),(31.33,0.5),(31.35,1.9),(31.37,-0.6),(31.39,0.4),(31.41,-1.8),(31.43,1.1),(31.45,-0.2),(31.46,0.7),(31.47,-1.3),(31.48,1.4),(31.5,0.1),
(31.52,-0.7),(31.54,0.9),(31.56,-0.1),(31.58,1.6),(31.6,-1.1),(31.62,0.3),(31.64,-0.4),(31.66,1.2),(31.68,0.6),(31.7,-1.6),(31.72,0.0),(31.74,1.8),(31.76,-0.9),(31.78,0.4),(31.8,-0.3),(31.82,1.0),(31.84,-1.4),(31.86,0.7),(31.88,0.1),(31.9,-1.9),(31.92,1.4),(31.94,-0.5),(31.95,0.5),(31.96,-1.2),(31.98,1.1),(31.99,-0.2),
(32.02,0.6),(32.04,-1.0),(32.07,1.3),(32.09,-0.3),(32.11,0.2),(32.13,-1.7),(32.16,0.9),(32.18,-0.6),(32.2,1.7),(32.22,0.0),(32.25,-1.3),(32.27,0.5),(32.29,1.1),(32.31,-0.8),(32.34,0.3),(32.36,-2.0),(32.38,1.5),(32.4,-0.2),(32.42,0.7),(32.44,-1.1),(32.46,1.0),(32.47,-0.5),(32.48,0.1),(32.5,1.9),
(32.52,-0.4),(32.55,0.8),(32.57,-1.4),(32.6,1.2),(32.62,0.1),(32.65,-0.8),(32.67,1.6),(32.7,-0.1),(32.72,0.5),(32.75,-1.8),(32.77,1.0),(32.8,-0.5),(32.82,0.3),(32.85,1.4),(32.87,-1.1),(32.9,0.6),(32.92,-0.2),(32.94,1.8),(32.96,-1.5),(32.98,0.2),(32.99,0.9),
(33.03,-0.6),(33.06,0.4),(33.09,1.3),(33.12,-1.2),(33.15,0.0),(33.18,0.8),(33.21,-0.4),(33.24,1.6),(33.27,-1.6),(33.3,0.5),(33.33,-0.1),(33.36,1.1),(33.39,-0.9),(33.42,0.2),(33.45,1.9),(33.47,-1.3),(33.49,0.6),
(33.53,-0.3),(33.57,1.0),(33.6,0.1),(33.64,-1.0),(33.67,1.5),(33.71,-0.5),(33.75,0.6),(33.78,-1.5),(33.82,0.3),(33.85,1.2),(33.89,-0.2),(33.92,0.8),(33.96,-0.8),(33.99,1.7),
(34.04,-0.4),(34.08,0.7),(34.13,-1.2),(34.17,1.3),(34.21,0.1),(34.25,-0.7),(34.29,1.0),(34.33,-0.1),(34.37,1.6),(34.41,-1.4),(34.45,0.4),(34.49,-0.3),
(34.54,0.9),(34.58,-0.6),(34.63,0.2),(34.67,1.4),(34.72,-1.1),(34.76,0.5),(34.81,-0.2),(34.85,1.1),(34.9,-0.9),(34.94,0.3),(34.98,1.7),
(35.05,-0.4),(35.1,0.6),(35.16,-1.0),(35.21,1.2),(35.27,0.0),(35.32,-0.6),(35.38,0.8),(35.43,-0.2),(35.48,0.4),
(35.57,0.2),(35.64,-0.5),(35.72,0.7),(35.8,-0.1),(35.88,0.3),(35.95,-0.8),
(36.1,0.1),(36.22,-0.4),(36.33,0.5),(36.45,-0.2),
(36.56,0.3),(36.63,-0.6),(36.72,0.0),(36.82,-1.0),(36.92,0.4),
(37.05,-0.3),(37.12,0.2),(37.2,-0.7),(37.28,0.6),(37.36,0.0),(37.44,-0.4),
(37.56,0.1),(37.64,-0.5),(37.73,0.4),(37.82,-0.8),(37.92,0.6),
(38.15,-0.2),(38.35,0.3),
(38.7,0.0),(38.72,-0.2),(38.74,-0.4),(38.76,-0.6),(38.85,0.2),
(39.2,0.3),(39.22,-0.2),(39.23,0.85),(39.25,-1.19)
]
temp_dense = [
(25.30,0.5),(25.34,-0.8),(25.38,0.1),(25.42,1.0),(25.46,-0.3),(25.50,0.7),(25.54,-1.1),(25.58,0.2),(25.62,-0.5),(25.66,0.9),(25.70,-0.1),(25.74,0.4),(25.78,-0.9),(25.82,0.8),(25.86,0.0),(25.90,-0.6),(25.94,1.1),(25.98,-0.2),(26.02,0.3),(26.06,-1.0),(26.10,0.6),(26.14,-0.4),(26.18,0.95),(26.22,-0.7),(26.26,0.15),(26.30,-0.25),(26.34,0.75),(26.38,-0.95),(26.42,0.45),(26.46,-0.05),
(26.50,-0.6),(26.54,0.3),(26.58,0.9),(26.62,-0.15),(26.66,-1.0),(26.70,0.55),(26.74,0.05),(26.78,-0.45),(26.82,0.8),(26.86,-0.85),(26.90,0.25),(26.94,1.05),(26.98,-0.3),(27.02,0.6),(27.06,-0.7),(27.10,0.0),(27.14,0.4),(27.18,-1.05),(27.22,0.7),(27.26,-0.2),(27.30,0.15),(27.34,0.95),(27.38,-0.55),(27.42,0.35),(27.46,-0.9),(27.50,0.65),(27.54,-0.1),(27.58,0.85),(27.62,-0.4),(27.66,0.2),
(27.70,0.5),(27.74,-0.8),(27.78,0.1),(27.82,1.0),(27.86,-0.3),(27.90,0.7),(27.94,-1.1),(27.98,0.2),(28.02,-0.5),(28.06,0.9),(28.10,-0.1),(28.14,0.4),(28.18,-0.9),(28.22,0.8),(28.26,0.0),(28.30,-0.6),(28.34,1.1),(28.38,-0.2),(28.42,0.3),(28.46,-1.0),(28.50,0.6),(28.54,-0.4),(28.58,0.95),(28.62,-0.7),(28.66,0.15),(28.70,-0.25),(28.74,0.75),(28.78,-0.95),(28.82,0.45),(28.86,-0.05),
(28.95,0.3),(29.1,-0.4),(29.3,0.1),
(29.40,-0.6),(29.44,0.3),(29.48,0.9),(29.52,-0.15),(29.56,-1.0),(29.60,0.55),(29.64,0.05),(29.68,-0.45),(29.72,0.8),(29.76,-0.85),(29.80,0.25),(29.84,1.05),(29.88,-0.3),(29.92,0.6),(29.96,-0.7),(30.00,0.0),(30.04,0.4),(30.08,-1.05),(30.12,0.7),(30.16,-0.2),(30.20,0.15),(30.24,0.95),(30.28,-0.55),(30.32,0.35),(30.36,-0.9),(30.40,0.65),(30.44,-0.1),(30.48,0.85),(30.52,-0.4),(30.56,0.2),
(30.60,0.5),(30.64,-0.8),(30.68,0.1),(30.72,1.0),(30.76,-0.3),(30.80,0.7),(30.84,-1.1),(30.88,0.2),(30.92,-0.5),(30.96,0.9),(31.00,-0.1),(31.04,0.4),(31.08,-0.9),(31.12,0.8),(31.16,0.0),(31.20,-0.6),(31.24,1.1),(31.28,-0.2),(31.32,0.3),(31.36,-1.0),(31.40,0.6),(31.44,-0.4),(31.48,0.95),(31.52,-0.7),(31.56,0.15),(31.60,-0.25),(31.64,0.75),(31.68,-0.95),(31.72,0.45),(31.76,-0.05),
(31.80,-0.6),(31.84,0.3),(31.88,0.9),(31.92,-0.15),(31.96,-1.0),(32.00,0.55),(32.04,0.05),(32.08,-0.45),(32.12,0.8),(32.16,-0.85),(32.20,0.25),(32.24,1.05),(32.28,-0.3),(32.32,0.6),(32.36,-0.7),(32.40,0.0),(32.44,0.4),(32.48,-1.05),(32.52,0.7),(32.56,-0.2),(32.60,0.15),(32.64,0.95),(32.68,-0.55),(32.72,0.35),(32.76,-0.9),(32.80,0.65),(32.84,-0.1),(32.88,0.85),(32.92,-0.4),(32.96,0.2),
(33.00,0.4),(33.04,-0.6),(33.08,0.1),(33.12,0.8),(33.16,-0.2),(33.20,0.5),(33.24,-0.9),(33.28,0.15),(33.32,-0.4),(33.36,0.7),(33.40,-0.05),(33.44,0.3),(33.48,-0.75),(33.52,0.6),(33.56,0.0),(33.60,-0.5),(33.64,0.85),(33.68,-0.15),(33.72,0.25),(33.76,-0.8),(33.80,0.45),(33.84,-0.3),(33.88,0.7),(33.92,-0.55),(33.96,0.1),(34.00,-0.2),(34.04,0.55),(34.08,-0.7),(34.12,0.35),(34.16,0.0),
(34.2,0.3),(34.28,-0.5),(34.36,0.6),(34.44,-0.2),(34.52,0.1),(34.6,-0.7),(34.68,0.45),(34.76,-0.35),(34.84,0.2),(34.92,-0.1),(35.0,0.5),
(23.4,0.2),(23.5,-0.4),(23.6,0.5),(23.7,-0.1),(23.8,0.3),(23.9,-0.6),(24.0,0.1),(24.1,0.4),(24.2,-0.3),(24.3,0.0),(24.4,0.6),(24.5,-0.5)
]
temp_dense2 = [
(25.50,0.3),(25.53,-1.0),(25.56,0.8),(25.59,-0.4),(25.62,1.2),(25.65,-0.7),(25.68,0.05),(25.71,0.6),(25.74,-1.3),(25.77,1.0),(25.80,-0.15),(25.83,0.4),(25.86,-0.85),(25.89,1.3),(25.92,-0.5),(25.95,0.7),(25.98,-1.1),(26.01,0.15),(26.04,0.9),(26.07,-0.25),(26.10,-0.6),(26.13,1.1),(26.16,-0.95),(26.19,0.5),(26.22,-0.05),
(26.25,-0.45),(26.28,0.95),(26.31,-1.2),(26.34,0.2),(26.37,0.6),(26.40,-0.8),(26.43,1.25),(26.46,-0.2),(26.49,0.35),(26.52,-1.05),(26.55,0.75),(26.58,0.0),(26.61,-0.55),(26.64,1.15),(26.67,-0.3),(26.70,-0.9),(26.73,0.45),(26.76,1.05),(26.79,-0.4),(26.82,0.1),(26.85,-1.25),(26.88,0.85),(26.91,-0.65),(26.94,0.25),(26.97,0.55),
(27.00,0.3),(27.03,-1.0),(27.06,0.8),(27.09,-0.4),(27.12,1.2),(27.15,-0.7),(27.18,0.05),(27.21,0.6),(27.24,-1.3),(27.27,1.0),(27.30,-0.15),(27.33,0.4),(27.36,-0.85),(27.39,1.3),(27.42,-0.5),(27.45,0.7),(27.48,-1.1),(27.51,0.15),(27.54,0.9),(27.57,-0.25),(27.60,-0.6),(27.63,1.1),(27.66,-0.95),(27.69,0.5),(27.72,-0.05),
(27.75,-0.45),(27.78,0.95),(27.81,-1.2),(27.84,0.2),(27.87,0.6),(27.90,-0.8),(27.93,1.25),(27.96,-0.2),(27.99,0.35),(28.02,-1.05),(28.05,0.75),(28.08,0.0),(28.11,-0.55),(28.14,1.15),(28.17,-0.3),(28.20,-0.9),(28.23,0.45),(28.26,1.05),(28.29,-0.4),(28.32,0.1),(28.35,-1.25),(28.38,0.85),(28.41,-0.65),(28.44,0.25),(28.47,0.55),
(28.50,0.3),(28.53,-1.0),(28.56,0.8),(28.59,-0.4),(28.62,1.2),(28.65,-0.7),(28.68,0.05),(28.71,0.6),(28.74,-1.3),(28.77,1.0),(28.80,-0.15),(28.83,0.4),(28.86,-0.85),(28.89,1.3),(28.92,-0.5),(28.95,0.7),(28.98,-1.1),(29.01,0.15),(29.04,0.9),(29.07,-0.25),(29.10,-0.6),(29.13,1.1),(29.16,-0.95),(29.19,0.5),(29.22,-0.05),
(29.25,-0.45),(29.28,0.95),(29.31,-1.2),(29.34,0.2),(29.37,0.6),(29.40,-0.8),(29.43,1.25),(29.46,-0.2),(29.49,0.35),(29.52,-1.05),(29.55,0.75),(29.58,0.0),(29.61,-0.55),(29.64,1.15),(29.67,-0.3),(29.70,-0.9),(29.73,0.45),(29.76,1.05),(29.79,-0.4),(29.82,0.1),(29.85,-1.25),(29.88,0.85),(29.91,-0.65),(29.94,0.25),(29.97,0.55),
(30.00,0.3),(30.03,-1.0),(30.06,0.8),(30.09,-0.4),(30.12,1.2),(30.15,-0.7),(30.18,0.05),(30.21,0.6),(30.24,-1.3),(30.27,1.0),(30.30,-0.15),(30.33,0.4),(30.36,-0.85),(30.39,1.3),(30.42,-0.5),(30.45,0.7),(30.48,-1.1),(30.51,0.15),(30.54,0.9),(30.57,-0.25),(30.60,-0.6),(30.63,1.1),(30.66,-0.95),(30.69,0.5),(30.72,-0.05),
(30.75,-0.45),(30.78,0.95),(30.81,-1.2),(30.84,0.2),(30.87,0.6),(30.90,-0.8),(30.93,1.25),(30.96,-0.2),(30.99,0.35),(31.02,-1.05),(31.05,0.75),(31.08,0.0),(31.11,-0.55),(31.14,1.15),(31.17,-0.3),(31.20,-0.9),(31.23,0.45),(31.26,1.05),(31.29,-0.4),(31.32,0.1),(31.35,-1.25),(31.38,0.85),(31.41,-0.65),(31.44,0.25),(31.47,0.55),
(31.50,0.3),(31.53,-1.0),(31.56,0.8),(31.59,-0.4),(31.62,1.2),(31.65,-0.7),(31.68,0.05),(31.71,0.6),(31.74,-1.3),(31.77,1.0),(31.80,-0.15),(31.83,0.4),(31.86,-0.85),(31.89,1.3),(31.92,-0.5),(31.95,0.7),(31.98,-1.1),(32.01,0.15),(32.04,0.9),(32.07,-0.25),(32.10,-0.6),(32.13,1.1),(32.16,-0.95),(32.19,0.5),(32.22,-0.05),
(32.25,-0.45),(32.28,0.95),(32.31,-1.2),(32.34,0.2),(32.37,0.6),(32.40,-0.8),(32.43,1.25),(32.46,-0.2),(32.49,0.35),(32.52,-1.05),(32.55,0.75),(32.58,0.0),(32.61,-0.55),(32.64,1.15),(32.67,-0.3),(32.70,-0.9),(32.73,0.45),(32.76,1.05),(32.79,-0.4),(32.82,0.1),(32.85,-1.25),(32.88,0.85),(32.91,-0.65),(32.94,0.25),(32.97,0.55),
(33.00,0.3),(33.03,-1.0),(33.06,0.8),(33.09,-0.4),(33.12,1.2),(33.15,-0.7),(33.18,0.05),(33.21,0.6),(33.24,-1.3),(33.27,1.0),(33.30,-0.15),(33.33,0.4),(33.36,-0.85),(33.39,1.3),(33.42,-0.5),(33.45,0.7),(33.48,-1.1),(33.51,0.15),(33.54,0.9),(33.57,-0.25),(33.60,-0.6),(33.63,1.1),(33.66,-0.95),(33.69,0.5),(33.72,-0.05),
(33.75,-0.45),(33.78,0.95),(33.81,-1.2),(33.84,0.2),(33.87,0.6),(33.90,-0.8),(33.93,1.25),(33.96,-0.2),(33.99,0.35),(34.02,-1.05),(34.05,0.75),(34.08,0.0),(34.11,-0.55),(34.14,1.15),(34.17,-0.3),(34.20,-0.9),(34.23,0.45),(34.26,1.05),(34.29,-0.4),(34.32,0.1),(34.35,-1.25),(34.38,0.85),(34.41,-0.65),(34.44,0.25),(34.47,0.55)
]

# ---------------- Figure
ref_levels = [-2, 0, 2]
y_ticks = [-5, 0, 5, 10]
FONT = "Liberation Sans, Arial, Helvetica, sans-serif"

panels = [
    dict(halo=mort_core + mort_bands + mort_scatter, dense=mort_dense + mort_dense2,
         xd=[0.1023, 0.4973], yd=[0.5910, 0.9560], xr=[3.56, 29.6], yr=[-7.6, 11.12], xt=[5, 10, 15, 20, 25]),
    dict(halo=pm_core + pm_edge + pm_scatter, dense=pm_dense + pm_dense2,
         xd=[0.5963, 0.9921], yd=[0.5910, 0.9560], xr=[-15.4, 426.4], yr=[-7.6, 11.12], xt=[0, 100, 200, 300, 400]),
    dict(halo=time_core + time_upper + time_lower, dense=time_dense + time_dense2,
         xd=[0.1023, 0.4976], yd=[0.0769, 0.4409], xr=[-41, 1131], yr=[-7.63, 11.07], xt=[0, 200, 400, 600, 800, 1000]),
    dict(halo=temp_core + temp_upper + temp_lower, dense=temp_dense + temp_dense2,
         xd=[0.5963, 0.9921], yd=[0.0769, 0.4409], xr=[22.36, 39.79], yr=[-7.63, 11.07], xt=[25, 30, 35]),
]

fig = go.Figure()
layout = dict(width=919, height=1072, autosize=False,
              margin=dict(l=0, r=0, t=0, b=0),
              paper_bgcolor="white", plot_bgcolor="white",
              showlegend=False, font=dict(family=FONT, color="black"))
shapes = []
for i, p in enumerate(panels, start=1):
    sx = "" if i == 1 else str(i)
    for key, lw in (("dense", 1.8), ("halo", 1.3)):
        pts = p[key]
        fig.add_trace(go.Scatter(x=[q[0] for q in pts], y=[q[1] for q in pts], mode="markers",
                                 xaxis="x" + sx, yaxis="y" + sx,
                                 marker=dict(symbol="circle-open", size=8.5, color="black",
                                             line=dict(width=lw, color="black")),
                                 hoverinfo="skip"))
    common = dict(showline=True, linecolor="black", linewidth=1, ticks="outside",
                  ticklen=8, tickwidth=1, tickcolor="black", showgrid=False, zeroline=False,
                  tickfont=dict(family=FONT, size=16.5, color="black"))
    layout["xaxis" + sx] = dict(domain=p["xd"], range=p["xr"], tickvals=p["xt"],
                                anchor="y" + sx, ticklabelstandoff=10, **common)
    layout["yaxis" + sx] = dict(domain=p["yd"], range=p["yr"], tickvals=y_ticks,
                                anchor="x" + sx, ticklabelstandoff=7, **common)
    for lv in ref_levels:
        shapes.append(dict(type="line", xref="x" + sx + " domain", yref="y" + sx,
                           x0=0, x1=1, y0=lv, y1=lv, line=dict(color="black", width=2)))

H = 1072.0
W = 919.0
def ann(text, px, py, size, xanchor="center", angle=0):
    return dict(text=text, x=px / W, y=1 - py / H, xref="paper", yref="paper",
                xanchor=xanchor, yanchor="middle", showarrow=False, textangle=angle,
                font=dict(family=FONT, size=size, color="black"))

layout["annotations"] = [
    ann("Predicted Mortality", 456, 27, 31, "right"),
    ann("PM<sub>10</sub>", 917, 29, 31, "right"),
    ann("Time", 457, 579, 31, "right"),
    ann("Temperature", 915, 579, 31, "right"),
    ann("Number of Deaths", 277, 508, 26),
    ann("μg/m<sup>3</sup>", 741, 506, 26),
    ann("Days", 278, 1051, 26),
    ann("°C", 742, 1051, 26),
    ann("Studentized Deviance Residual", 22, 545, 28, "center", -90),
]
layout["shapes"] = shapes
fig.update_layout(**layout)
fig.write_html("out.html", config={"displayModeBar": False},
               post_script="document.body.style.margin='0px';document.body.style.overflow='hidden';")
